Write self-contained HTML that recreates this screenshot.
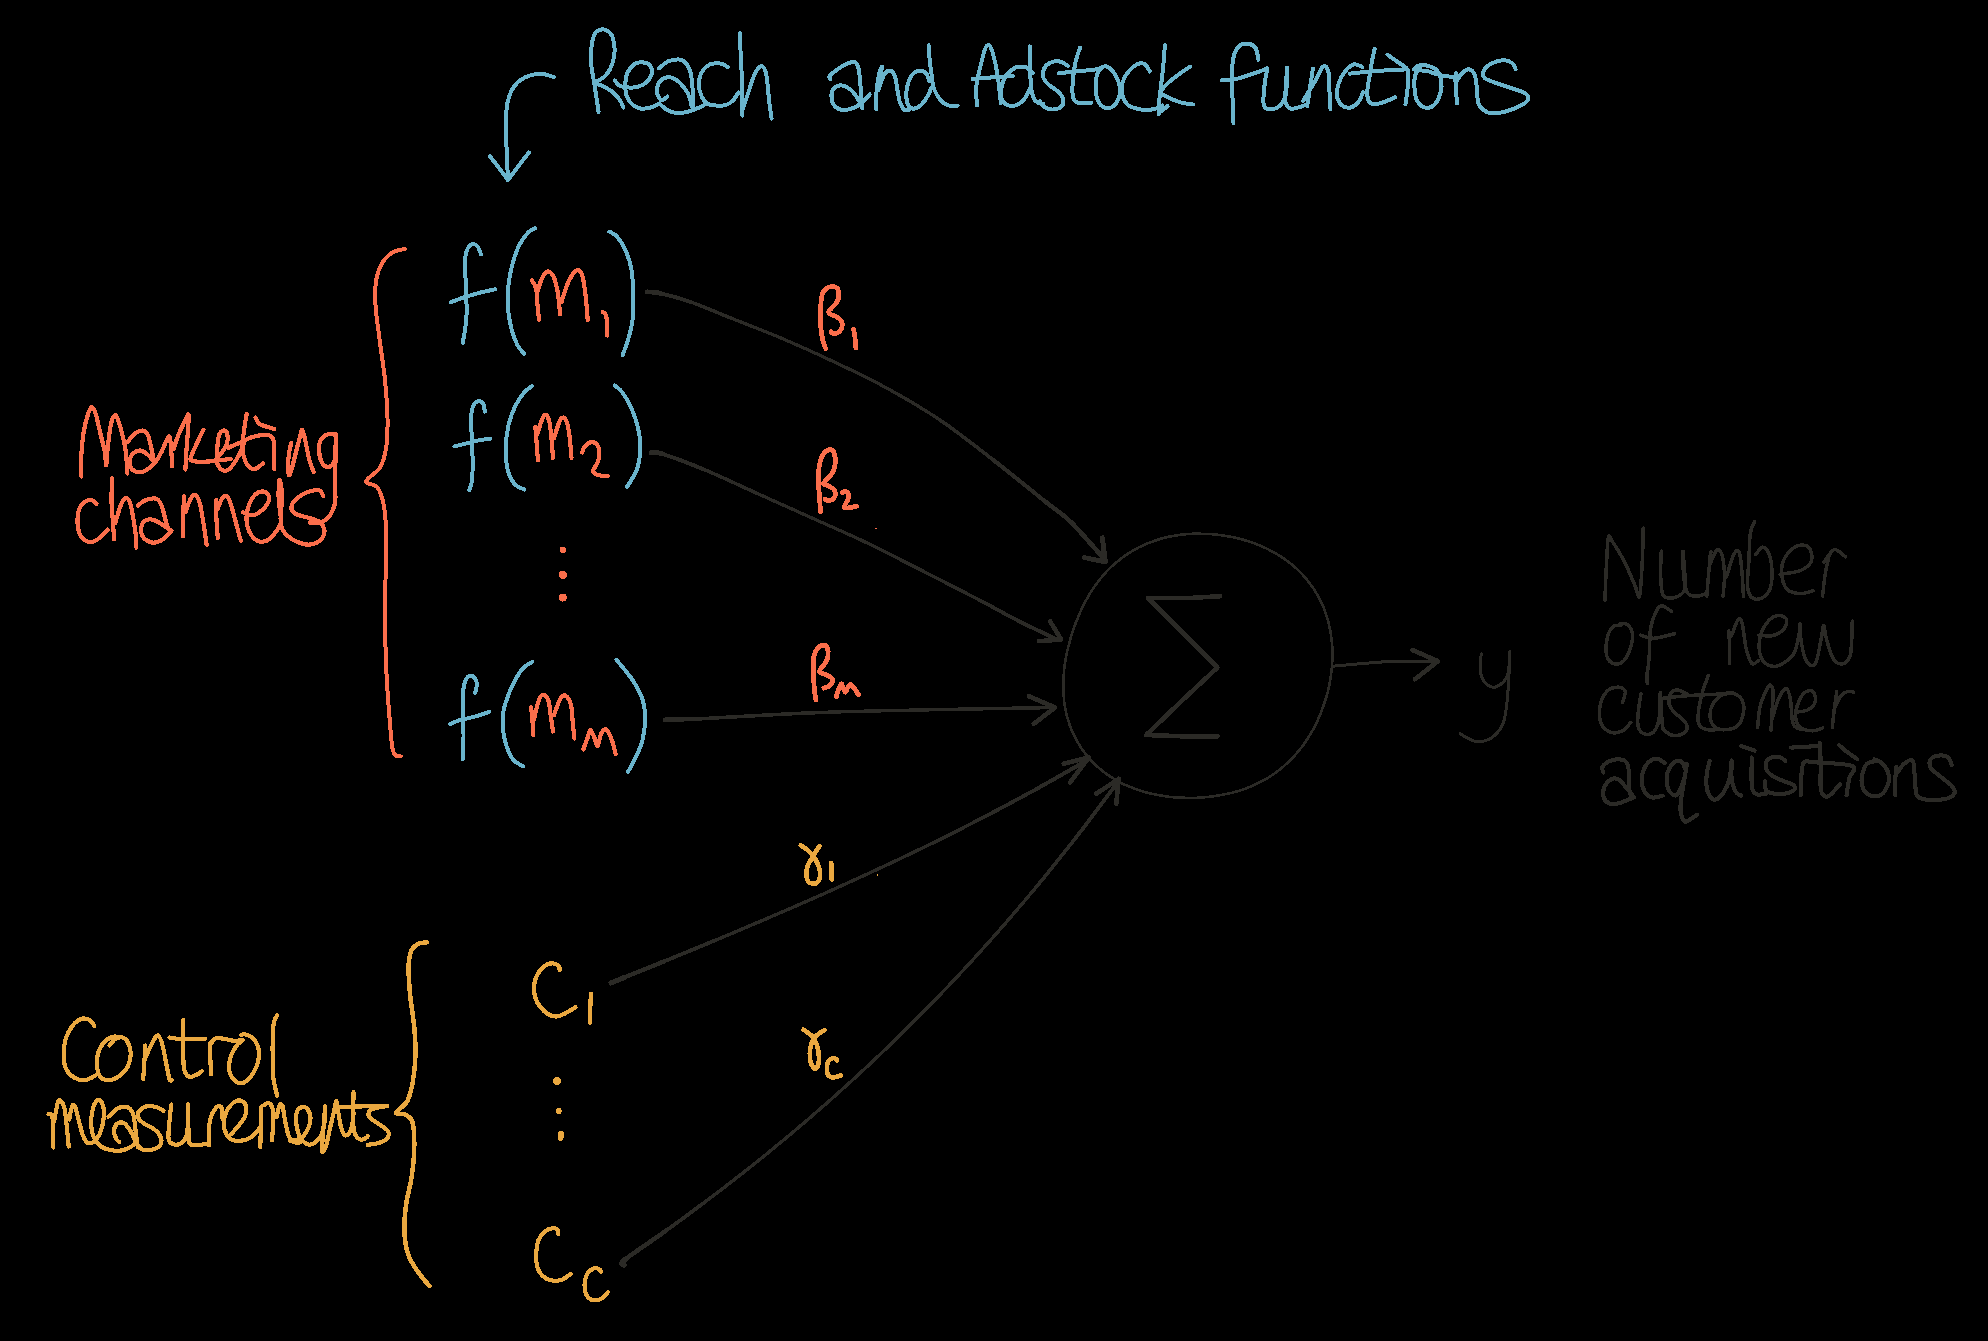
<!DOCTYPE html>
<html><head><meta charset="utf-8"><title>Marketing mix model diagram</title>
<style>html,body{margin:0;padding:0;background:#000;width:1988px;height:1341px;overflow:hidden}svg{display:block}</style></head>
<body><svg width="1988" height="1341" viewBox="0 0 1988 1341">
<rect width="1988" height="1341" fill="#000"/>
<g fill="none" stroke-linecap="round" stroke-linejoin="round" shape-rendering="crispEdges">
<path d="M1152.5,541.5C1154.4,540.9 1160.1,538.8 1164.0,537.8C1167.9,536.8 1172.0,536.1 1176.0,535.5C1180.0,534.9 1184.2,534.3 1188.2,534.0C1192.3,533.7 1196.5,533.7 1200.5,533.8C1204.5,533.8 1208.5,533.9 1212.5,534.2C1216.5,534.6 1220.7,535.1 1224.8,535.8C1228.8,536.4 1232.8,537.0 1236.8,538.0C1240.8,539.0 1244.8,540.2 1248.8,541.5C1252.7,542.8 1256.7,544.1 1260.5,545.8C1264.3,547.4 1268.0,549.2 1271.8,551.2C1275.5,553.2 1279.2,555.4 1282.8,557.8C1286.2,560.1 1289.5,562.5 1292.8,565.2C1296.0,568.0 1299.1,570.9 1302.0,574.0C1304.9,577.1 1307.7,580.6 1310.2,584.0C1312.8,587.4 1315.1,590.8 1317.2,594.5C1319.4,598.2 1321.3,602.1 1323.0,606.0C1324.7,609.9 1326.0,613.9 1327.2,618.0C1328.5,622.1 1329.5,626.3 1330.2,630.5C1331.0,634.7 1331.6,638.8 1332.0,643.0C1332.4,647.2 1332.5,651.4 1332.5,655.5C1332.5,659.6 1332.1,663.7 1331.8,667.8C1331.4,671.8 1330.9,676.0 1330.2,680.0C1329.6,684.0 1328.8,688.1 1327.8,692.0C1326.8,695.9 1325.5,699.7 1324.2,703.5C1323.0,707.3 1321.5,711.2 1320.0,715.0C1318.5,718.8 1316.8,722.4 1315.0,726.0C1313.2,729.6 1311.1,733.1 1309.0,736.5C1306.9,739.9 1304.7,743.3 1302.2,746.5C1299.8,749.7 1297.2,752.8 1294.5,755.8C1291.8,758.7 1289.0,761.5 1286.0,764.2C1283.0,767.0 1279.8,769.6 1276.5,772.0C1273.2,774.4 1270.0,776.7 1266.5,778.8C1263.0,780.8 1259.4,782.5 1255.8,784.2C1252.1,786.0 1248.3,787.6 1244.5,789.0C1240.7,790.4 1236.9,791.5 1233.0,792.5C1229.1,793.5 1225.2,794.3 1221.2,795.0C1217.3,795.7 1213.5,796.3 1209.5,796.8C1205.5,797.2 1201.3,797.6 1197.2,797.8C1193.2,797.9 1189.3,797.8 1185.2,797.8C1181.2,797.7 1177.1,797.6 1173.0,797.2C1168.9,796.9 1164.8,796.2 1160.8,795.5C1156.7,794.8 1152.6,794.0 1148.5,793.0C1144.4,792.0 1140.3,790.7 1136.2,789.2C1132.2,787.8 1128.1,786.3 1124.2,784.5C1120.4,782.7 1116.7,780.5 1113.0,778.2C1109.3,776.0 1105.7,773.5 1102.2,770.8C1098.8,768.0 1095.5,765.1 1092.5,762.0C1089.5,758.9 1086.6,755.5 1084.0,752.0C1081.4,748.5 1079.1,744.8 1077.0,741.0C1074.9,737.2 1072.9,733.2 1071.2,729.2C1069.6,725.2 1068.4,721.2 1067.2,717.0C1066.1,712.8 1065.1,708.5 1064.5,704.2C1063.9,700.0 1063.7,695.8 1063.5,691.5C1063.3,687.2 1063.3,682.9 1063.5,678.8C1063.7,674.6 1064.0,670.6 1064.5,666.5C1065.0,662.4 1065.7,658.2 1066.5,654.2C1067.3,650.2 1068.5,646.4 1069.5,642.5C1070.5,638.6 1071.5,634.8 1072.8,631.0C1074.0,627.2 1075.5,623.5 1077.0,619.8C1078.5,616.0 1080.0,612.3 1081.8,608.8C1083.5,605.2 1085.3,601.7 1087.2,598.2C1089.2,594.8 1091.2,591.3 1093.5,588.0C1095.8,584.7 1098.2,581.4 1100.8,578.2C1103.3,575.1 1105.9,572.1 1108.8,569.2C1111.6,566.4 1114.6,563.8 1117.8,561.2C1120.9,558.7 1124.1,556.2 1127.5,554.0C1130.9,551.8 1134.4,549.6 1138.0,547.8C1141.6,545.9 1145.5,544.2 1149.2,542.8C1153.0,541.2 1156.8,539.9 1160.8,538.8C1164.7,537.6 1168.8,536.8 1172.8,536.0C1176.8,535.2 1182.8,534.5 1184.8,534.2" stroke="#2b2a26" stroke-width="2.6"/>
<path d="M1220.0,596.2L1190.0,598.0L1148.0,598.0L1182.5,632.5L1217.5,667.5L1180.0,702.5L1146.2,735.0L1180.0,736.2L1217.5,736.2" stroke="#2b2a26" stroke-width="4.6"/>
<path d="M1333.0,666.2C1342.5,665.5 1372.6,662.3 1390.0,661.5C1407.4,660.7 1429.6,661.3 1437.5,661.2" stroke="#2b2a26" stroke-width="3"/>
<path d="M1412.5,650.0L1438.0,661.2L1415.0,679.2" stroke="#2b2a26" stroke-width="4.6"/>
<path d="M1481.2,653.8C1481.1,656.9 1479.5,667.3 1480.5,672.5C1481.5,677.7 1484.7,682.7 1487.5,685.0C1490.3,687.3 1494.2,687.9 1497.5,686.2C1500.8,684.6 1505.4,680.8 1507.5,675.0C1509.6,669.2 1509.6,655.2 1510.0,651.2" stroke="#2b2a26" stroke-width="3"/>
<path d="M1509.5,665.0C1509.1,671.2 1508.2,692.5 1507.0,702.5C1505.8,712.5 1505.3,719.0 1502.5,725.0C1499.7,731.0 1494.6,736.0 1490.0,738.8C1485.4,741.5 1480.0,742.1 1475.0,741.2C1470.0,740.4 1462.5,735.0 1460.0,733.8" stroke="#2b2a26" stroke-width="3"/>
<path d="M1083.8,557.5L1103.8,561.8L1102.5,537.5" stroke="#2b2a26" stroke-width="4.6"/>
<path d="M1063.8,763.8L1088.8,757.5L1070.0,782.5" stroke="#2b2a26" stroke-width="4.6"/>
<path d="M1096.2,793.8L1118.8,778.8L1116.2,803.8" stroke="#2b2a26" stroke-width="4.6"/>
<path d="M1083.8,557.5L1105.5,561.8L1102.5,537.5" stroke="#2b2a26" stroke-width="4.6"/>

<path d="M665.0,720.0C667.9,719.9 676.7,719.7 682.5,719.5" stroke="#2b2a26" stroke-width="5.00"/>
<path d="M682.5,719.5C688.3,719.3 677.1,719.9 700.0,718.8" stroke="#2b2a26" stroke-width="4.15"/>
<path d="M700.0,718.8C722.9,717.6 779.2,714.0 820.0,712.5" stroke="#2b2a26" stroke-width="3.60"/>
<path d="M820.0,712.5C860.8,711.0 905.9,710.3 945.0,709.5" stroke="#2b2a26" stroke-width="3.40"/>
<path d="M945.0,709.5C984.1,708.7 1036.2,707.8 1054.5,707.5" stroke="#2b2a26" stroke-width="3.50"/>
<path d="M1028.8,696.2L1055.0,707.5L1033.8,723.8" stroke="#2b2a26" stroke-width="4.6"/>
<path d="M1038.8,641.2L1061.2,639.5L1050.0,621.2" stroke="#2b2a26" stroke-width="4.6"/>
<path d="M611.0,983.0C613.3,982.0 616.2,980.8 625.0,977.2" stroke="#2b2a26" stroke-width="5.05"/>
<path d="M625.0,977.2C633.8,973.6 648.7,967.7 664.0,961.4" stroke="#2b2a26" stroke-width="4.30"/>
<path d="M664.0,961.4C679.3,955.1 699.3,947.0 717.0,939.6" stroke="#2b2a26" stroke-width="3.75"/>
<path d="M717.0,939.6C734.7,932.2 752.3,924.8 770.0,917.2" stroke="#2b2a26" stroke-width="3.40"/>
<path d="M770.0,917.2C787.7,909.6 805.3,902.0 823.0,894.1" stroke="#2b2a26" stroke-width="3.30"/>
<path d="M823.0,894.1C840.7,886.2 858.3,878.2 876.0,870.0" stroke="#2b2a26" stroke-width="3.30"/>
<path d="M876.0,870.0C893.7,861.8 911.3,853.4 929.0,844.8" stroke="#2b2a26" stroke-width="3.35"/>
<path d="M929.0,844.8C946.7,836.1 964.3,827.3 982.0,818.1" stroke="#2b2a26" stroke-width="3.50"/>
<path d="M982.0,818.1C999.7,808.9 1017.3,799.5 1035.0,789.8" stroke="#2b2a26" stroke-width="3.70"/>
<path d="M1035.0,789.8C1052.7,780.1 1079.2,764.7 1088.0,759.7" stroke="#2b2a26" stroke-width="3.90"/>
<path d="M624.0,1265.2C624.2,1264.3 618.0,1265.3 625.0,1259.6" stroke="#2b2a26" stroke-width="5.25"/>
<path d="M625.0,1259.6C632.0,1253.8 652.3,1240.5 666.0,1230.7" stroke="#2b2a26" stroke-width="4.50"/>
<path d="M666.0,1230.7C679.7,1220.9 693.3,1210.8 707.0,1200.5" stroke="#2b2a26" stroke-width="3.75"/>
<path d="M707.0,1200.5C720.7,1190.2 734.3,1179.7 748.0,1168.9" stroke="#2b2a26" stroke-width="3.40"/>
<path d="M748.0,1168.9C761.7,1158.1 775.3,1146.9 789.0,1135.5" stroke="#2b2a26" stroke-width="3.30"/>
<path d="M789.0,1135.5C802.7,1124.1 816.3,1112.4 830.0,1100.3" stroke="#2b2a26" stroke-width="3.30"/>
<path d="M830.0,1100.3C843.7,1088.2 857.3,1075.8 871.0,1063.0" stroke="#2b2a26" stroke-width="3.30"/>
<path d="M871.0,1063.0C884.7,1050.2 898.3,1036.9 912.0,1023.3" stroke="#2b2a26" stroke-width="3.30"/>
<path d="M912.0,1023.3C925.7,1009.7 939.3,995.7 953.0,981.2" stroke="#2b2a26" stroke-width="3.30"/>
<path d="M953.0,981.2C966.7,966.7 980.3,951.8 994.0,936.3" stroke="#2b2a26" stroke-width="3.30"/>
<path d="M994.0,936.3C1007.7,920.8 1021.3,905.0 1035.0,888.5" stroke="#2b2a26" stroke-width="3.40"/>
<path d="M1035.0,888.5C1048.7,872.0 1062.3,855.0 1076.0,837.5" stroke="#2b2a26" stroke-width="3.60"/>
<path d="M1076.0,837.5C1089.7,820.0 1110.2,792.2 1117.0,783.2" stroke="#2b2a26" stroke-width="3.80"/>
<path d="M647.1,291.9C649.3,292.1 652.8,291.4 660.2,293.2" stroke="#2b2a26" stroke-width="4.85"/>
<path d="M660.2,293.2C667.6,294.9 679.8,298.2 691.6,302.3" stroke="#2b2a26" stroke-width="3.90"/>
<path d="M691.6,302.3C703.3,306.5 715.5,311.9 730.8,318.0" stroke="#2b2a26" stroke-width="3.45"/>
<path d="M730.8,318.0C746.0,324.1 765.7,331.5 783.1,338.9" stroke="#2b2a26" stroke-width="3.25"/>
<path d="M783.1,338.9C800.5,346.3 818.0,354.2 835.4,362.5" stroke="#2b2a26" stroke-width="3.20"/>
<path d="M835.4,362.5C852.9,370.8 870.3,379.0 887.7,388.6" stroke="#2b2a26" stroke-width="3.20"/>
<path d="M887.7,388.6C905.2,398.2 922.6,408.3 940.0,420.0" stroke="#2b2a26" stroke-width="3.30"/>
<path d="M940.0,420.0C957.5,431.8 974.9,445.7 992.4,459.3" stroke="#2b2a26" stroke-width="3.60"/>
<path d="M992.4,459.3C1009.8,472.8 1031.6,490.6 1044.7,501.1" stroke="#2b2a26" stroke-width="4.05"/>
<path d="M1044.7,501.1C1057.8,511.6 1060.6,512.0 1070.8,522.0" stroke="#2b2a26" stroke-width="4.45"/>
<path d="M1070.8,522.0C1081.1,532.1 1100.3,554.7 1106.1,561.3" stroke="#2b2a26" stroke-width="4.60"/>
<path d="M651.0,452.7C653.0,452.9 653.8,451.2 662.8,454.0" stroke="#2b2a26" stroke-width="4.85"/>
<path d="M662.8,454.0C671.7,456.9 688.9,463.2 704.6,469.7" stroke="#2b2a26" stroke-width="3.90"/>
<path d="M704.6,469.7C720.3,476.3 739.5,485.4 756.9,493.3" stroke="#2b2a26" stroke-width="3.45"/>
<path d="M756.9,493.3C774.4,501.1 791.8,509.0 809.3,516.8" stroke="#2b2a26" stroke-width="3.25"/>
<path d="M809.3,516.8C826.7,524.7 844.1,532.1 861.6,540.3" stroke="#2b2a26" stroke-width="3.20"/>
<path d="M861.6,540.3C879.0,548.6 894.3,556.6 913.9,566.5" stroke="#2b2a26" stroke-width="3.25"/>
<path d="M913.9,566.5C933.5,576.4 961.8,590.9 979.3,600.0" stroke="#2b2a26" stroke-width="3.40"/>
<path d="M979.3,600.0C996.7,609.1 1005.7,614.4 1018.5,620.9" stroke="#2b2a26" stroke-width="3.65"/>
<path d="M1018.5,620.9C1031.4,627.5 1050.1,636.2 1056.4,639.2" stroke="#2b2a26" stroke-width="3.90"/>
<path d="M553.8,77.0C551.0,76.5 543.5,72.8 537.5,73.8C531.5,74.7 522.5,77.7 517.5,82.5C512.5,87.3 509.4,93.8 507.5,102.5C505.6,111.2 506.2,122.1 506.2,135.0C506.3,147.9 507.7,172.5 508.0,180.0" stroke="#6ab4cc" stroke-width="4"/>
<path d="M490.0,156.2L508.0,180.0L528.8,152.5" stroke="#6ab4cc" stroke-width="4"/>
<path d="M405.0,248.8C402.9,249.4 396.2,250.2 392.5,252.5C388.8,254.8 385.2,257.9 382.5,262.5C379.8,267.1 377.4,272.9 376.2,280.0C375.1,287.1 374.9,294.6 375.5,305.0C376.1,315.4 378.4,330.0 380.0,342.5C381.6,355.0 383.8,367.5 385.0,380.0C386.2,392.5 387.3,406.2 387.5,417.5C387.7,428.8 387.5,439.2 386.2,447.5C385.0,455.8 383.3,461.9 380.0,467.5C376.7,473.1 366.7,477.9 366.2,481.2C365.8,484.6 374.6,483.5 377.5,487.5C380.4,491.5 382.3,497.9 383.8,505.0C385.2,512.1 385.8,524.2 386.2,530.0C386.7,535.8 386.4,531.7 386.2,540.0C386.1,548.3 385.7,566.6 385.5,580.0C385.3,593.4 384.9,605.9 385.0,620.5C385.1,635.1 385.7,654.1 386.2,667.5C386.8,680.9 387.5,690.6 388.2,701.0C389.0,711.4 389.8,721.8 390.5,730.0C391.2,738.2 391.8,745.7 392.8,750.0C393.7,754.3 394.9,754.7 396.2,755.8C397.6,756.8 400.0,756.4 400.8,756.5" stroke="#fa6e4b" stroke-width="4"/>
<path d="M426.6,942.4C425.2,942.6 420.8,942.4 418.3,943.8C415.8,945.2 413.0,947.0 411.4,950.7C409.8,954.4 408.9,958.7 408.6,965.9C408.4,973.0 409.1,983.3 410.0,993.5C410.9,1003.6 413.2,1016.5 414.2,1026.6C415.1,1036.7 415.8,1045.0 415.5,1054.2C415.3,1063.4 414.2,1073.9 412.8,1081.8C411.4,1089.6 410.0,1095.9 407.3,1101.1C404.5,1106.2 396.4,1110.4 396.2,1112.7C396.0,1115.0 403.1,1113.1 405.9,1114.9C408.6,1116.6 411.4,1117.2 412.8,1123.2C414.2,1129.1 414.4,1141.6 414.2,1150.8C413.9,1159.9 412.8,1169.1 411.4,1178.3C410.0,1187.5 407.0,1196.7 405.9,1205.9C404.7,1215.1 404.0,1225.3 404.5,1233.5C405.0,1241.8 406.3,1249.2 408.6,1255.6C410.9,1262.0 414.8,1267.1 418.3,1272.2C421.7,1277.2 427.5,1283.7 429.3,1286.0" stroke="#eaa840" stroke-width="4.5"/>
<path d="M598.6,112.1C598.3,109.8 597.4,103.4 596.6,98.5C595.8,93.5 595.0,88.2 594.1,82.4C593.2,76.5 591.5,69.3 591.1,63.3C590.6,57.2 590.9,51.2 591.6,46.2C592.2,41.1 593.5,35.8 595.1,33.1C596.7,30.3 599.1,30.0 601.1,29.6C603.1,29.1 605.3,29.5 607.2,30.6C609.0,31.7 610.9,32.8 612.2,36.1C613.5,39.4 614.7,45.5 614.7,50.2C614.7,54.9 613.5,60.2 612.2,64.3C610.9,68.3 608.8,71.6 606.7,74.3C604.5,77.0 601.2,79.0 599.1,80.4C597.0,81.7 593.4,81.4 594.1,82.4C594.8,83.4 600.0,84.7 603.1,86.4C606.3,88.1 610.3,90.1 613.2,92.4C616.0,94.8 618.6,98.0 620.2,100.5C621.9,103.0 622.8,106.4 623.3,107.5" stroke="#6ab4cc" stroke-width="4.0"/>
<path d="M614.7,80.4C615.5,81.2 617.1,84.2 619.2,85.4C621.3,86.6 624.3,87.2 627.3,87.4C630.3,87.7 634.2,87.7 637.3,86.9C640.5,86.1 644.0,84.6 646.4,82.4C648.8,80.1 651.3,76.2 651.9,73.3C652.5,70.5 651.5,67.1 649.9,65.3C648.3,63.4 645.0,62.4 642.4,62.3C639.8,62.1 636.8,62.4 634.3,64.3C631.8,66.1 628.8,69.8 627.3,73.3C625.8,76.8 625.4,81.5 625.3,85.4C625.2,89.2 625.6,93.3 626.8,96.5C628.0,99.6 630.1,102.5 632.3,104.5C634.6,106.5 637.3,108.0 640.4,108.5C643.4,109.0 647.2,108.4 650.4,107.5C653.6,106.7 658.0,104.2 659.5,103.5" stroke="#6ab4cc" stroke-width="4.0"/>
<path d="M659.0,68.3C660.6,67.1 664.9,62.7 668.5,61.2C672.1,59.8 677.5,59.2 680.6,59.7C683.7,60.3 685.5,62.5 687.1,64.8C688.8,67.0 689.7,69.0 690.7,73.3C691.6,77.6 692.3,84.2 692.7,90.4C693.1,96.6 693.1,107.2 693.2,110.5" stroke="#6ab4cc" stroke-width="4.0"/>
<path d="M667.5,96.5C666.7,97.0 664.0,99.9 662.5,100.0C661.0,100.1 659.4,98.7 658.5,97.0C657.5,95.2 656.7,92.0 657.0,89.4C657.2,86.8 658.2,83.4 660.0,81.4C661.7,79.4 664.9,77.7 667.5,77.3C670.1,77.0 672.7,77.5 675.6,79.4C678.4,81.2 682.3,85.4 684.6,88.4C687.0,91.4 688.5,94.4 689.7,97.5C690.8,100.5 691.3,105.0 691.7,106.5" stroke="#6ab4cc" stroke-width="4.0"/>
<path d="M659.5,103.5C660.7,104.5 663.7,107.9 666.5,109.5C669.4,111.1 673.2,112.6 676.6,113.1C679.9,113.5 683.5,112.7 686.6,112.1C689.8,111.4 692.8,110.1 695.7,109.0C698.5,107.9 702.4,106.1 703.7,105.5" stroke="#6ab4cc" stroke-width="4.0"/>
<path d="M727.9,67.3C727.0,66.8 725.0,64.9 722.9,64.3C720.7,63.6 717.5,62.9 714.8,63.3C712.1,63.6 709.1,64.4 706.8,66.3C704.4,68.1 702.1,71.1 700.7,74.3C699.4,77.5 698.5,81.7 698.7,85.4C698.9,89.1 700.4,93.4 701.7,96.5C703.1,99.5 704.4,102.0 706.8,103.5C709.1,105.0 712.6,105.3 715.8,105.5C719.0,105.8 723.0,105.8 725.9,105.0C728.7,104.2 730.8,102.6 732.9,100.5C735.0,98.4 737.5,93.8 738.5,92.4" stroke="#6ab4cc" stroke-width="4.0"/>
<path d="M740.0,33.1C740.0,35.9 740.2,44.0 740.5,50.2C740.7,56.4 741.2,63.6 741.5,70.3C741.7,77.0 741.8,82.9 742.0,90.4C742.1,98.0 742.4,111.4 742.5,115.6" stroke="#6ab4cc" stroke-width="4.0"/>
<path d="M743.0,108.5C744.0,105.5 747.0,96.3 749.0,90.4C751.0,84.6 753.0,77.3 755.1,73.3C757.1,69.3 759.4,66.8 761.1,66.3C762.8,65.8 764.1,68.0 765.1,70.3C766.1,72.6 766.5,75.3 767.1,80.4C767.8,85.4 768.4,94.1 769.1,100.5C769.9,106.9 771.2,115.6 771.6,118.6" stroke="#6ab4cc" stroke-width="4.0"/>
<path d="M830.1,79.3C830.0,78.7 828.7,77.1 829.6,75.8C830.4,74.4 832.8,72.9 835.1,71.2C837.4,69.6 840.5,67.2 843.1,65.7C845.8,64.2 849.1,62.7 851.2,62.2C853.3,61.7 854.5,61.5 855.7,62.7C857.0,63.9 858.0,66.0 858.7,69.2C859.5,72.5 859.8,77.8 860.2,82.3C860.7,86.8 860.9,92.1 861.2,96.4C861.6,100.7 862.1,106.0 862.3,108.0" stroke="#6ab4cc" stroke-width="4.0"/>
<path d="M869.8,94.4C868.5,95.7 865.0,100.2 862.3,102.4C859.5,104.7 856.4,106.7 853.2,108.0C850.0,109.2 846.2,110.2 843.1,110.0C840.1,109.7 837.0,108.4 835.1,106.5C833.2,104.5 831.9,101.3 831.6,98.4C831.2,95.6 831.7,91.5 833.1,89.4C834.5,87.2 837.8,85.7 840.1,85.3C842.5,85.0 844.8,86.0 847.2,87.3C849.5,88.7 852.2,91.0 854.2,93.4C856.2,95.7 857.9,99.0 859.2,101.4C860.6,103.9 861.8,106.9 862.3,108.0" stroke="#6ab4cc" stroke-width="4.0"/>
<path d="M876.3,109.5C876.4,106.6 876.1,98.1 876.5,92.4C877.0,86.7 878.0,79.5 878.9,75.3C879.7,71.0 881.6,66.4 881.9,66.7C882.1,67.1 880.9,73.3 880.4,77.3C879.8,81.2 878.7,88.2 878.4,90.4" stroke="#6ab4cc" stroke-width="4.0"/>
<path d="M878.4,90.4C879.4,87.7 882.4,77.5 884.4,74.3C886.4,71.0 888.7,70.4 890.4,70.7C892.2,71.1 893.8,73.0 894.9,76.3C896.1,79.5 896.6,86.0 897.5,90.4C898.3,94.7 898.8,99.2 900.0,102.4C901.2,105.7 902.9,108.8 904.5,110.0C906.1,111.2 908.7,109.6 909.5,109.5" stroke="#6ab4cc" stroke-width="4.0"/>
<path d="M929.2,81.3C928.7,80.0 927.7,75.0 926.1,73.3C924.5,71.5 921.9,70.6 919.6,70.7C917.3,70.9 914.6,71.8 912.6,74.3C910.5,76.7 908.5,81.3 907.5,85.3C906.5,89.4 906.1,94.7 906.5,98.4C906.9,102.1 908.2,106.0 910.0,107.5C911.9,109.0 915.0,108.8 917.6,107.5C920.2,106.1 923.3,102.8 925.6,99.4C928.0,96.1 930.7,89.4 931.7,87.3" stroke="#6ab4cc" stroke-width="4.0"/>
<path d="M928.7,45.1C928.8,47.6 929.2,55.2 929.7,60.2C930.2,65.2 931.1,70.9 931.7,75.3C932.3,79.6 932.3,83.2 933.2,86.3C934.0,89.5 935.3,91.9 936.7,94.4C938.1,96.9 939.7,99.6 941.7,101.4C943.7,103.3 946.1,104.8 948.8,105.5C951.5,106.1 956.3,105.5 957.8,105.5" stroke="#6ab4cc" stroke-width="4.0"/>
<path d="M976.9,105.5C976.8,102.3 975.8,92.9 976.3,86.6C976.8,80.3 978.6,74.0 980.1,67.7C981.6,61.4 983.8,52.6 985.1,48.9C986.5,45.1 987.2,45.1 988.3,45.1C989.3,45.1 990.3,45.9 991.4,48.9C992.6,51.8 994.0,57.5 995.2,62.7C996.3,67.9 997.4,73.6 998.3,80.3C999.3,87.0 1000.4,99.2 1000.8,102.9" stroke="#6ab4cc" stroke-width="4.0"/>
<path d="M972.5,79.0C974.4,78.9 979.3,78.4 983.9,78.0C988.5,77.7 995.4,77.1 1000.2,76.8C1005.0,76.4 1010.7,76.0 1012.8,75.9" stroke="#6ab4cc" stroke-width="4.0"/>
<path d="M1032.9,72.8C1031.6,71.8 1028.3,67.9 1025.4,67.1C1022.4,66.3 1018.4,66.4 1015.3,67.7C1012.2,69.1 1008.8,72.1 1006.5,75.3C1004.2,78.4 1002.6,82.8 1001.7,86.6C1000.9,90.4 1000.8,95.0 1001.5,97.9C1002.2,100.8 1003.6,102.9 1005.9,104.2C1008.2,105.5 1012.3,106.3 1015.3,105.5C1018.3,104.6 1021.6,102.1 1024.1,99.2C1026.6,96.2 1029.3,89.7 1030.4,87.8" stroke="#6ab4cc" stroke-width="4.0"/>
<path d="M1029.8,46.3C1029.8,49.9 1029.9,61.0 1030.1,67.7C1030.4,74.4 1030.5,81.6 1031.0,86.6C1031.6,91.6 1032.4,95.2 1033.5,97.9C1034.7,100.6 1036.4,102.0 1037.9,102.9C1039.5,103.9 1042.1,103.5 1043.0,103.6" stroke="#6ab4cc" stroke-width="4.0"/>
<path d="M1068.1,65.8C1066.7,65.1 1062.3,62.0 1059.3,61.4C1056.4,60.9 1053.0,61.5 1050.5,62.7C1048.0,63.8 1045.4,65.9 1044.2,68.4C1043.0,70.8 1042.5,74.4 1043.2,77.2C1044.0,79.9 1046.3,82.4 1048.6,84.7C1051.0,87.0 1055.0,88.7 1057.4,91.0C1059.8,93.3 1062.4,96.0 1063.1,98.5C1063.8,101.1 1063.5,104.3 1061.8,106.1C1060.2,107.9 1056.0,109.3 1053.0,109.5C1050.1,109.6 1046.4,108.4 1044.2,107.0C1042.0,105.6 1040.6,102.0 1039.8,101.1" stroke="#6ab4cc" stroke-width="4.0"/>
<path d="M1080.1,47.6C1079.3,49.9 1076.8,56.4 1075.7,61.4C1074.5,66.5 1073.7,72.5 1073.1,77.8C1072.6,83.0 1072.3,89.1 1072.5,92.9C1072.8,96.7 1073.2,98.9 1074.7,100.7C1076.1,102.4 1078.5,103.0 1081.3,103.3C1084.1,103.7 1089.7,102.8 1091.4,102.7" stroke="#6ab4cc" stroke-width="4.0"/>
<path d="M1058.7,73.4C1060.9,73.1 1067.4,72.2 1071.9,71.8C1076.4,71.3 1081.3,70.9 1085.7,70.5C1090.1,70.1 1096.2,69.4 1098.3,69.2" stroke="#6ab4cc" stroke-width="4.0"/>
<path d="M1102.3,66.7C1101.4,68.0 1098.1,71.3 1097.0,74.6C1096.0,78.0 1095.7,82.5 1095.8,86.6C1095.8,90.7 1096.0,95.8 1097.3,99.2C1098.6,102.6 1100.9,105.7 1103.3,107.0C1105.8,108.3 1109.6,108.4 1112.1,107.0C1114.7,105.5 1117.4,101.5 1118.7,98.2C1120.0,94.8 1120.6,90.8 1119.9,86.8C1119.3,82.9 1117.0,77.6 1114.9,74.3C1112.8,70.9 1109.5,67.9 1107.1,66.7C1104.8,65.6 1101.9,67.3 1100.8,67.5" stroke="#6ab4cc" stroke-width="4.0"/>
<path d="M1149.9,71.5C1149.0,70.3 1146.9,65.4 1144.8,64.2C1142.7,63.0 1140.0,63.0 1137.3,64.2C1134.6,65.4 1131.0,68.4 1128.5,71.5C1126.0,74.6 1123.5,78.8 1122.4,82.8C1121.4,86.8 1121.4,91.6 1122.4,95.4C1123.5,99.2 1125.6,103.1 1128.7,105.5C1131.8,107.8 1136.9,108.8 1141.1,109.5C1145.2,110.1 1150.1,109.9 1153.6,109.2C1157.2,108.6 1161.0,106.1 1162.4,105.5" stroke="#6ab4cc" stroke-width="4.0"/>
<path d="M1164.9,45.1C1164.6,48.9 1163.7,60.8 1163.1,67.7C1162.4,74.6 1161.6,81.1 1160.9,86.6C1160.3,92.0 1159.7,95.8 1159.3,100.4C1158.9,105.0 1158.8,112.0 1158.7,114.3" stroke="#6ab4cc" stroke-width="4.0"/>
<path d="M1190.1,66.7C1188.2,68.0 1182.7,71.4 1178.8,74.3C1174.9,77.2 1169.8,81.0 1166.8,84.1C1163.9,87.2 1160.2,90.3 1161.2,92.9C1162.1,95.4 1168.9,97.7 1172.5,99.4C1176.1,101.1 1179.2,102.1 1182.6,102.9C1186.0,103.8 1191.1,104.2 1192.9,104.4" stroke="#6ab4cc" stroke-width="4.0"/>
<path d="M1167.7,106.1L1161.2,111.1" stroke="#6ab4cc" stroke-width="4.0"/>
<path d="M1233.5,123.4C1233.4,119.9 1233.0,109.9 1232.7,102.4C1232.4,94.9 1231.8,85.8 1231.9,78.3C1232.0,70.8 1232.3,62.7 1233.5,57.4C1234.7,52.0 1236.7,48.4 1239.1,46.1C1241.6,43.8 1245.3,43.4 1248.0,43.7C1250.7,44.0 1253.8,45.3 1255.6,48.0C1257.3,50.7 1258.0,57.8 1258.5,59.8" stroke="#6ab4cc" stroke-width="4.0"/>
<path d="M1221.8,80.2C1223.6,80.1 1228.8,80.5 1232.9,79.7C1237.0,79.0 1241.9,77.3 1246.4,75.9C1250.9,74.5 1256.3,72.6 1259.7,71.4C1263.2,70.1 1266.1,68.8 1267.3,68.3" stroke="#6ab4cc" stroke-width="4.0"/>
<path d="M1267.3,68.3C1266.9,71.0 1265.2,78.8 1264.6,84.7C1264.0,90.7 1262.9,99.9 1263.6,104.0C1264.3,108.1 1266.3,109.0 1268.9,109.4C1271.6,109.7 1276.6,108.6 1279.4,106.1C1282.2,103.6 1284.5,100.8 1285.8,94.4C1287.1,87.9 1286.9,72.0 1287.1,67.5" stroke="#6ab4cc" stroke-width="4.0"/>
<path d="M1287.1,67.5C1286.9,70.9 1286.1,82.4 1285.8,87.9C1285.5,93.5 1284.5,97.4 1285.2,100.8C1285.9,104.2 1287.6,107.3 1289.8,108.4C1292.1,109.5 1295.8,107.9 1298.7,107.3C1301.6,106.6 1305.8,104.8 1307.2,104.4" stroke="#6ab4cc" stroke-width="4.0"/>
<path d="M1307.2,106.1C1307.7,103.1 1309.0,94.2 1310.0,87.9C1310.9,81.7 1312.4,72.0 1312.9,68.8" stroke="#6ab4cc" stroke-width="4.0"/>
<path d="M1303.2,100.8C1305.1,97.6 1311.5,87.3 1314.8,81.5C1318.1,75.8 1320.9,67.9 1323.2,66.4C1325.4,64.8 1327.4,67.5 1328.5,72.2C1329.6,76.8 1329.3,88.2 1329.6,94.4C1329.9,100.5 1330.3,106.6 1330.4,109.0" stroke="#6ab4cc" stroke-width="4.0"/>
<path d="M1362.2,67.0C1360.8,66.5 1356.8,63.8 1354.1,64.3C1351.4,64.9 1348.6,67.2 1346.1,70.2C1343.6,73.2 1340.5,77.9 1339.0,82.3C1337.5,86.6 1336.5,92.5 1337.0,96.3C1337.5,100.2 1339.9,103.5 1342.0,105.4C1344.2,107.3 1347.4,108.1 1350.1,107.6C1352.8,107.1 1356.0,104.9 1358.1,102.4C1360.3,99.8 1362.3,94.0 1363.2,92.3" stroke="#6ab4cc" stroke-width="4.0"/>
<path d="M1374.7,48.6C1374.3,50.5 1373.1,55.7 1372.2,60.1C1371.4,64.6 1370.5,70.2 1369.7,75.2C1368.9,80.2 1367.6,86.1 1367.4,90.3C1367.2,94.5 1367.3,98.0 1368.4,100.4C1369.5,102.7 1371.4,104.0 1373.7,104.4C1376.0,104.8 1378.7,103.7 1382.3,102.6C1385.9,101.4 1393.2,98.2 1395.4,97.3" stroke="#6ab4cc" stroke-width="4.0"/>
<path d="M1349.6,73.7C1352.2,73.4 1359.2,72.5 1365.2,72.0C1371.1,71.4 1378.3,70.8 1385.3,70.4C1392.3,69.9 1403.7,69.5 1407.4,69.4" stroke="#6ab4cc" stroke-width="4.0"/>
<path d="M1387.3,54.6C1388.8,55.7 1393.3,58.9 1396.4,61.1C1399.5,63.3 1403.9,65.8 1405.9,67.7C1407.9,69.5 1408.1,69.3 1408.4,72.2C1408.8,75.1 1408.2,81.2 1407.9,85.3C1407.6,89.3 1407.0,93.2 1406.6,96.3C1406.2,99.5 1405.6,103.0 1405.4,104.4" stroke="#6ab4cc" stroke-width="4.0"/>
<path d="M1420.5,68.2C1419.7,69.2 1416.5,70.9 1415.5,74.2C1414.5,77.6 1414.1,83.8 1414.5,88.3C1414.8,92.8 1415.7,98.1 1417.5,101.4C1419.3,104.6 1422.7,107.1 1425.5,107.6C1428.4,108.1 1432.1,107.1 1434.6,104.6C1437.1,102.0 1439.5,96.4 1440.6,92.3C1441.7,88.3 1441.8,83.9 1441.1,80.2C1440.5,76.6 1438.7,72.6 1436.6,70.2C1434.5,67.8 1431.4,66.8 1428.6,66.0C1425.7,65.2 1421.9,64.8 1419.5,65.4C1417.1,65.9 1414.0,68.6 1414.0,69.4C1414.0,70.2 1417.1,69.9 1419.5,70.2C1421.9,70.5 1427.1,71.0 1428.6,71.2" stroke="#6ab4cc" stroke-width="4.0"/>
<path d="M1428.6,71.4C1430.6,72.0 1436.1,74.2 1440.6,75.2C1445.2,76.2 1453.2,77.1 1455.7,77.4" stroke="#6ab4cc" stroke-width="4.0"/>
<path d="M1456.9,103.4C1456.8,100.4 1456.0,90.3 1455.9,85.3C1455.8,80.2 1456.3,73.7 1456.2,73.2C1456.2,72.7 1454.8,82.3 1455.7,82.3C1456.7,82.3 1459.7,75.3 1462.0,73.2C1464.2,71.1 1466.9,69.0 1469.0,69.4C1471.2,69.7 1473.5,71.7 1474.8,75.2C1476.2,78.7 1476.5,85.8 1477.1,90.3C1477.6,94.8 1477.1,99.2 1478.1,102.4C1479.0,105.6 1480.6,107.8 1482.9,109.6C1485.2,111.5 1488.1,113.1 1491.9,113.4C1495.8,113.7 1501.2,112.8 1506.0,111.4C1510.9,110.1 1517.4,107.4 1521.1,105.4C1524.8,103.4 1527.5,101.4 1528.2,99.4C1528.8,97.3 1527.3,95.0 1525.1,93.3C1523.0,91.6 1519.3,90.8 1515.1,89.3C1510.9,87.8 1505.0,86.1 1500.0,84.3C1495.0,82.4 1487.6,80.6 1484.9,78.2C1482.2,75.9 1482.7,72.7 1483.9,70.2C1485.1,67.7 1488.6,65.0 1491.9,63.3C1495.3,61.7 1500.7,60.2 1504.0,60.1C1507.4,60.1 1510.1,61.6 1512.1,63.1C1514.0,64.6 1515.0,68.2 1515.6,69.2" stroke="#6ab4cc" stroke-width="4.0"/>
<path d="M462.7,342.8C463.1,340.8 464.3,335.5 464.9,330.7C465.5,325.9 466.4,321.4 466.6,314.1C466.7,306.7 466.3,294.7 466.0,286.4C465.7,278.1 464.8,270.2 464.9,264.3C465.0,258.4 465.4,254.3 466.6,251.0C467.8,247.7 470.2,245.1 472.1,244.3C473.9,243.6 476.2,244.9 477.6,246.6C479.1,248.2 480.4,253.0 480.9,254.3" stroke="#6ab4cc" stroke-width="4.0"/>
<path d="M450.5,302.4C452.5,301.7 457.4,299.6 462.1,298.0C466.8,296.5 473.2,294.5 478.7,293.0C484.3,291.6 492.6,289.8 495.3,289.2" stroke="#6ab4cc" stroke-width="4.0"/>
<path d="M535.2,228.3C534.1,228.9 531.1,229.5 528.5,232.2C526.0,234.8 522.3,239.4 519.7,244.3C517.1,249.3 514.9,255.4 513.0,262.1C511.2,268.7 509.4,276.4 508.6,284.2C507.8,291.9 507.5,300.8 508.1,308.5C508.6,316.3 510.4,324.6 511.9,330.7C513.5,336.8 515.4,341.2 517.5,345.1C519.5,348.9 523.0,352.4 524.1,353.9" stroke="#6ab4cc" stroke-width="4.0"/>
<path d="M609.3,231.6C610.6,232.5 614.3,233.4 617.1,236.6C619.8,239.8 623.5,245.5 625.9,251.0C628.3,256.5 630.3,263.0 631.5,269.8C632.7,276.6 632.9,283.6 633.1,291.9C633.3,300.2 633.4,311.7 632.6,319.6C631.7,327.5 629.8,333.6 628.1,339.5C626.5,345.4 623.5,352.4 622.6,355.0" stroke="#6ab4cc" stroke-width="4.0"/>
<path d="M531.9,280.3C532.6,281.7 535.1,284.6 536.1,288.6C537.0,292.6 536.9,298.9 537.4,304.1C537.9,309.3 538.8,317.0 539.0,319.6" stroke="#fa6e4b" stroke-width="4.2"/>
<path d="M536.5,295.3C537.4,292.5 539.9,282.6 541.8,278.7C543.7,274.7 545.9,271.6 547.9,271.5C549.9,271.3 552.3,274.0 554.0,277.5C555.6,281.1 556.8,287.0 557.9,293.0C558.9,299.1 559.7,310.6 560.1,314.1" stroke="#fa6e4b" stroke-width="4.2"/>
<path d="M561.5,301.9C562.7,298.6 565.8,287.2 568.4,282.0C570.9,276.7 574.4,271.5 576.7,270.4C579.0,269.2 580.7,271.2 582.2,275.3C583.7,279.5 584.6,287.8 585.5,295.3C586.5,302.7 587.4,316.0 587.7,320.2" stroke="#fa6e4b" stroke-width="4.2"/>
<path d="M602.7,311.9C603.2,312.4 605.3,313.0 606.0,315.2C606.7,317.4 606.9,321.7 607.1,325.1C607.3,328.5 607.1,333.9 607.1,335.6" stroke="#fa6e4b" stroke-width="4.2"/>
<path d="M469.3,490.1C469.8,488.4 471.5,484.6 472.1,480.1C472.6,475.7 472.6,470.0 472.6,463.5C472.6,457.1 472.4,448.8 472.1,441.4C471.8,434.0 470.8,425.2 471.0,419.3C471.2,413.4 472.0,409.0 473.2,406.0C474.4,402.9 476.5,401.4 478.2,401.0C479.8,400.6 482.1,402.0 483.2,403.8C484.3,405.5 484.5,410.2 484.8,411.5" stroke="#6ab4cc" stroke-width="4.0"/>
<path d="M454.4,446.4C456.6,445.8 463.6,444.1 467.7,443.1C471.7,442.0 475.0,441.0 478.7,440.3C482.5,439.6 488.4,438.9 490.4,438.6" stroke="#6ab4cc" stroke-width="4.0"/>
<path d="M531.9,386.1C530.6,387.2 526.9,389.4 524.1,392.7C521.3,396.0 517.8,400.6 515.3,406.0C512.7,411.3 510.2,418.0 508.6,424.8C507.0,431.6 506.0,439.6 505.8,446.9C505.7,454.3 506.1,463.0 507.5,469.1C508.9,475.2 511.4,480.0 514.1,483.5C516.9,486.9 522.4,488.5 524.1,489.5" stroke="#6ab4cc" stroke-width="4.0"/>
<path d="M614.9,385.5C616.1,386.7 619.8,388.9 622.6,392.7C625.4,396.5 628.9,402.3 631.5,408.2C634.0,414.1 636.6,421.7 638.1,428.1C639.6,434.6 640.3,440.7 640.3,446.9C640.3,453.2 639.4,460.6 638.1,465.7C636.8,470.9 634.4,474.4 632.6,477.9C630.7,481.4 628.0,485.3 627.0,486.8" stroke="#6ab4cc" stroke-width="4.0"/>
<path d="M535.4,427.0C535.6,429.4 536.1,435.9 536.5,441.4C536.9,446.9 537.7,457.1 537.9,460.2" stroke="#fa6e4b" stroke-width="4.2"/>
<path d="M537.4,433.7C538.5,430.6 542.1,417.6 544.0,415.4C546.0,413.2 547.7,416.0 549.0,420.4C550.3,424.7 551.1,435.1 551.8,441.4C552.4,447.7 552.7,455.2 552.9,458.0" stroke="#fa6e4b" stroke-width="4.2"/>
<path d="M554.0,438.1C555.1,434.9 558.6,422.2 560.6,419.3C562.7,416.3 564.7,417.6 566.2,420.4C567.6,423.1 568.6,429.6 569.5,435.9C570.4,442.1 571.1,454.3 571.5,458.0" stroke="#fa6e4b" stroke-width="4.2"/>
<path d="M582.2,452.5C582.6,451.5 583.1,448.6 584.4,446.9C585.7,445.3 588.0,443.0 590.0,442.5C591.9,442.0 594.7,442.3 596.3,443.8C597.8,445.3 599.1,448.6 599.4,451.6C599.7,454.5 599.0,458.4 598.0,461.5C597.0,464.7 593.7,468.3 593.3,470.4C592.9,472.5 594.1,473.2 595.5,474.0C596.9,474.9 599.5,475.4 601.6,475.7C603.6,476.0 606.6,475.9 607.7,475.9" stroke="#fa6e4b" stroke-width="4.2"/>
<path d="M475.1,693.0C475.4,691.4 477.3,686.0 476.9,683.2C476.5,680.3 474.1,676.9 472.4,676.0C470.8,675.1 468.5,675.7 467.1,677.8C465.6,679.9 464.1,683.2 463.5,688.5C462.8,693.9 463.1,702.0 463.1,710.0C463.1,718.1 463.6,728.6 463.5,736.9C463.4,745.1 462.7,755.5 462.6,759.2" stroke="#6ab4cc" stroke-width="4.0"/>
<path d="M450.1,724.3C451.4,723.7 453.8,722.1 458.1,720.7C462.4,719.4 470.8,717.8 476.0,716.3C481.2,714.8 487.2,712.5 489.4,711.8" stroke="#6ab4cc" stroke-width="4.0"/>
<path d="M532.4,661.7C530.7,662.9 526.0,664.7 522.5,668.8C519.1,673.0 514.9,679.9 511.8,686.7C508.7,693.6 505.2,703.1 503.7,710.0C502.3,716.9 502.4,721.9 502.8,727.9C503.3,733.9 504.6,740.4 506.4,745.8C508.2,751.2 510.8,756.7 513.6,760.1C516.4,763.5 521.8,765.3 523.4,766.4" stroke="#6ab4cc" stroke-width="4.0"/>
<path d="M616.5,659.9C617.2,660.8 618.1,661.7 621.0,665.3C623.8,668.8 629.9,675.7 633.5,681.4C637.1,687.0 640.5,693.0 642.4,699.3C644.4,705.5 645.1,712.1 645.1,719.0C645.1,725.8 644.1,733.9 642.4,740.4C640.8,747.0 637.7,753.1 635.3,758.3C632.9,763.5 629.3,769.5 628.1,771.7" stroke="#6ab4cc" stroke-width="4.0"/>
<path d="M531.1,707.3C531.3,709.3 532.0,714.3 532.4,719.0C532.7,723.6 533.1,732.4 533.3,735.1" stroke="#fa6e4b" stroke-width="4.2"/>
<path d="M533.6,720.7C534.5,717.5 537.1,705.4 538.6,701.1C540.2,696.7 541.5,694.8 543.1,694.8C544.8,694.8 547.1,697.0 548.5,701.1C549.8,705.1 550.4,713.9 551.2,719.0C551.9,724.0 552.7,729.4 553.0,731.5" stroke="#fa6e4b" stroke-width="4.2"/>
<path d="M553.9,715.4C554.9,712.7 558.2,702.6 560.1,699.3C562.1,696.0 563.7,694.8 565.5,695.7C567.3,696.6 569.7,700.5 570.9,704.6C572.0,708.8 572.0,715.1 572.6,720.7C573.2,726.4 574.1,735.7 574.4,738.6" stroke="#fa6e4b" stroke-width="4.2"/>
<path d="M583.4,749.4C584.1,747.3 586.7,740.1 587.9,736.9C589.0,733.6 589.5,730.1 590.5,730.1C591.6,730.1 592.9,734.2 594.1,736.9C595.3,739.5 596.5,746.4 597.7,745.8C598.9,745.2 599.8,736.0 601.3,733.3C602.8,730.6 604.9,728.5 606.6,729.7C608.4,730.9 610.5,736.4 612.0,740.4C613.5,744.5 615.0,751.6 615.6,753.9" stroke="#fa6e4b" stroke-width="4.2"/>
<path d="M562.8,549.8l0.01,0" stroke="#fa6e4b" stroke-width="6.3"/>
<path d="M562.8,574.9l0.01,0" stroke="#fa6e4b" stroke-width="8"/>
<path d="M562.8,597.6l0.01,0" stroke="#fa6e4b" stroke-width="8"/>
<path d="M825.7,348.6C825.2,347.1 823.5,343.1 822.7,339.7C821.9,336.2 821.2,332.7 820.9,327.7C820.5,322.8 820.4,315.3 820.6,309.8C820.8,304.4 821.1,298.5 822.1,294.9C823.0,291.3 824.5,289.7 826.3,288.4C828.0,287.0 830.9,286.5 832.8,286.6C834.7,286.7 836.6,287.6 837.6,288.9C838.6,290.3 838.9,292.7 838.8,294.9C838.7,297.1 838.1,300.0 837.0,302.1C835.9,304.2 833.6,305.9 832.2,307.4C830.8,309.0 828.8,310.4 828.6,311.6C828.4,312.8 829.6,313.7 831.0,314.6C832.4,315.5 835.2,315.8 837.0,317.0C838.8,318.2 841.0,320.0 841.8,321.8C842.6,323.6 842.4,325.9 841.8,327.7C841.2,329.5 839.6,331.5 838.2,332.5C836.8,333.5 834.6,333.8 833.4,333.7C832.2,333.6 831.4,332.2 831.0,331.9" stroke="#fa6e4b" stroke-width="4.8"/>
<path d="M853.7,329.5C853.9,330.7 854.5,333.6 854.9,336.7C855.2,339.8 855.6,346.1 855.8,348.0" stroke="#fa6e4b" stroke-width="4.8"/>
<path d="M820.6,511.6C820.4,509.6 820.0,504.6 819.7,499.7C819.3,494.7 818.6,487.2 818.5,481.8C818.4,476.3 818.4,471.3 819.1,466.8C819.8,462.4 821.2,457.7 822.7,454.9C824.2,452.1 826.4,450.8 828.0,450.1C829.7,449.4 831.6,449.4 832.8,450.7C834.0,452.0 834.9,455.2 835.2,457.9C835.5,460.6 835.2,464.2 834.6,466.8C834.0,469.5 832.8,472.0 831.6,474.0C830.4,476.0 828.8,477.2 827.4,478.8C826.1,480.4 823.2,482.4 823.3,483.6C823.4,484.7 826.3,484.9 828.0,485.9C829.8,486.9 832.8,487.9 834.0,489.5C835.2,491.1 835.5,493.8 835.2,495.5C834.9,497.2 833.5,498.9 832.2,499.7C830.9,500.5 828.6,500.4 827.4,500.3C826.3,500.2 825.5,499.3 825.1,499.1" stroke="#fa6e4b" stroke-width="4.8"/>
<path d="M842.4,492.5C842.9,492.3 844.4,491.1 845.3,491.3C846.3,491.5 847.8,492.5 848.3,493.7C848.8,494.9 848.7,496.9 848.3,498.5C847.9,500.1 846.6,501.8 845.9,503.2C845.2,504.7 843.9,506.6 844.2,507.4C844.5,508.2 845.6,508.2 847.7,508.0C849.8,507.8 855.2,506.5 856.7,506.2" stroke="#fa6e4b" stroke-width="4.8"/>
<path d="M815.8,700.0C815.6,698.1 814.7,693.6 814.3,688.7C813.9,683.8 813.5,676.3 813.4,670.8C813.4,665.3 813.3,659.7 814.0,655.9C814.8,652.1 816.4,649.9 817.9,648.1C819.4,646.3 821.7,645.1 823.3,645.1C824.9,645.1 826.7,646.3 827.4,648.1C828.2,649.9 828.3,653.5 828.0,655.9C827.7,658.3 826.8,660.4 825.7,662.4C824.5,664.5 821.9,666.8 820.9,668.4C819.9,670.0 819.0,671.0 819.7,672.0C820.4,673.0 823.1,673.4 825.1,674.4C827.0,675.4 830.4,676.6 831.6,678.0C832.8,679.4 832.7,681.3 832.2,682.7C831.7,684.1 830.0,685.4 828.6,686.3C827.2,687.2 824.7,687.8 823.9,688.1" stroke="#fa6e4b" stroke-width="4.8"/>
<path d="M836.4,696.5C836.7,695.5 837.4,692.6 838.2,690.5C839.0,688.4 840.4,684.4 841.2,683.9C842.0,683.4 842.3,686.1 843.0,687.5C843.7,688.9 844.6,692.3 845.3,692.3C846.1,692.3 846.8,688.8 847.7,687.5C848.6,686.2 849.7,684.5 850.7,684.5C851.7,684.5 852.8,686.4 853.7,687.5C854.6,688.6 855.3,689.9 856.1,691.1C856.9,692.3 858.1,694.1 858.5,694.7" stroke="#fa6e4b" stroke-width="4.8"/>
<path d="M800.7,845.2C801.5,845.8 803.9,847.3 805.5,848.5C807.1,849.7 808.9,851.3 810.3,852.7C811.7,854.1 812.7,855.1 813.9,856.8C815.1,858.6 816.5,861.1 817.4,863.4C818.4,865.7 819.4,868.2 819.8,870.6C820.2,873.0 820.2,875.7 819.8,877.7C819.4,879.7 818.6,881.5 817.4,882.5C816.3,883.5 814.3,883.9 812.7,883.7C811.1,883.5 808.9,882.7 807.9,881.3C806.9,879.9 806.5,877.7 806.4,875.3C806.3,873.0 806.6,869.6 807.3,867.0C808.0,864.4 809.7,862.0 810.9,859.8C812.1,857.6 813.4,855.7 814.5,853.9C815.6,852.1 816.6,850.4 817.4,849.1C818.3,847.8 819.2,846.6 819.5,846.1" stroke="#eaa840" stroke-width="4.6"/>
<path d="M831.2,862.8C831.2,863.8 831.4,866.0 831.5,868.8C831.6,871.6 831.7,877.7 831.8,879.5" stroke="#eaa840" stroke-width="4.6"/>
<path d="M803.5,1029.6C804.2,1030.1 806.2,1031.5 807.5,1032.5C808.9,1033.5 810.5,1034.5 811.6,1035.7C812.6,1036.8 812.9,1037.7 813.8,1039.2C814.7,1040.8 816.1,1042.7 816.9,1045.1C817.7,1047.4 818.4,1050.6 818.7,1053.6C819.0,1056.5 819.1,1060.0 818.7,1062.5C818.3,1065.0 817.3,1067.4 816.5,1068.3C815.7,1069.2 814.8,1068.8 813.8,1067.9C812.8,1066.9 811.3,1064.9 810.7,1062.5C810.0,1060.1 809.7,1056.5 809.8,1053.6C809.8,1050.6 810.4,1047.1 811.1,1044.6C811.8,1042.1 812.7,1040.4 813.8,1038.8C814.8,1037.2 816.2,1035.9 817.4,1034.8C818.6,1033.6 819.8,1032.8 821.0,1032.1C822.1,1031.3 823.9,1030.6 824.5,1030.3" stroke="#eaa840" stroke-width="4.6"/>
<path d="M837.1,1060.3C836.6,1059.9 835.5,1058.2 834.4,1058.0C833.3,1057.9 831.5,1058.6 830.3,1059.4C829.2,1060.2 828.3,1061.3 827.7,1063.0C827.1,1064.6 826.7,1067.2 826.8,1069.2C826.8,1071.2 827.2,1073.7 828.1,1075.0C829.0,1076.4 830.7,1077.0 832.1,1077.3C833.6,1077.6 835.2,1077.1 836.6,1076.8C838.0,1076.5 840.0,1075.7 840.6,1075.5" stroke="#eaa840" stroke-width="4.6"/>
<path d="M559.7,969.7C559.5,969.1 559.8,967.2 558.8,966.1C557.7,965.1 555.4,963.7 553.4,963.4C551.4,963.2 549.1,963.4 546.8,964.6C544.6,965.9 541.7,968.1 539.7,970.9C537.7,973.6 535.8,977.3 534.9,981.0C534.0,984.7 533.9,989.4 534.3,993.0C534.7,996.5 535.7,999.5 537.3,1002.5C538.9,1005.5 541.6,1008.7 543.9,1010.9C546.2,1013.0 548.6,1014.7 551.0,1015.6C553.4,1016.5 555.8,1016.6 558.2,1016.2C560.6,1015.8 562.5,1014.7 565.3,1013.2C568.2,1011.8 573.8,1008.3 575.5,1007.3" stroke="#eaa840" stroke-width="4.3"/>
<path d="M591.0,993.6C590.9,995.2 590.6,998.8 590.4,1003.7C590.3,1008.6 590.2,1019.6 590.1,1022.8" stroke="#eaa840" stroke-width="4.3"/>
<path d="M558.4,1233.9C558.2,1233.1 558.3,1230.3 557.3,1229.4C556.2,1228.5 554.2,1227.9 552.1,1228.3C550.0,1228.6 546.8,1229.7 544.6,1231.6C542.4,1233.6 540.0,1236.6 538.6,1239.8C537.3,1243.1 536.8,1247.3 536.4,1251.0C536.0,1254.7 535.9,1258.7 536.4,1262.2C536.9,1265.7 537.8,1269.2 539.4,1271.9C541.0,1274.6 543.6,1277.1 546.1,1278.6C548.6,1280.1 551.6,1280.7 554.3,1280.8C557.0,1281.0 559.8,1280.5 562.5,1279.4C565.2,1278.2 569.3,1275.0 570.7,1274.1" stroke="#eaa840" stroke-width="4.2"/>
<path d="M600.9,1271.9C600.6,1271.4 600.2,1269.5 599.0,1268.9C597.9,1268.4 595.7,1267.9 593.8,1268.5C592.0,1269.2 589.4,1270.6 587.9,1272.6C586.4,1274.7 585.3,1277.7 584.9,1280.8C584.4,1283.9 584.6,1288.4 585.2,1291.3C585.9,1294.1 587.1,1296.5 588.6,1298.0C590.2,1299.5 592.5,1300.1 594.6,1300.2C596.7,1300.4 599.0,1300.1 601.3,1298.7C603.5,1297.4 606.9,1293.1 608.0,1292.0" stroke="#eaa840" stroke-width="4.2"/>
<path d="M557.0,1081.0l0.01,0" stroke="#eaa840" stroke-width="8"/>
<path d="M558.8,1111.0l0.01,0" stroke="#eaa840" stroke-width="6"/>
<path d="M561.0,1133.5L560.5,1138.0" stroke="#eaa840" stroke-width="6"/>
<path d="M876.0,528.5l0.01,0" stroke="#fa6e4b" stroke-width="1.8"/>
<path d="M877.5,875.0l0.01,0" stroke="#eaa840" stroke-width="1.8"/>
<path d="M81.3,476.5C81.3,473.0 80.9,462.7 81.3,455.4C81.7,448.1 82.5,439.6 83.6,432.7C84.7,425.8 86.7,418.1 88.1,413.9C89.5,409.6 90.6,407.1 91.9,407.1C93.1,407.1 94.3,409.6 95.7,413.9C97.0,418.1 98.7,426.4 100.2,432.7C101.7,439.0 103.7,446.2 104.7,451.6C105.7,457.0 105.7,465.8 106.2,465.2C106.7,464.5 107.0,454.5 107.7,447.8C108.5,441.2 109.6,430.6 110.7,425.2C111.9,419.8 113.6,416.1 114.9,415.4C116.2,414.6 117.0,417.1 118.3,420.7C119.6,424.2 121.6,431.3 122.8,436.5C124.1,441.7 125.1,445.4 125.8,451.6C126.6,457.8 127.1,469.8 127.3,473.5" stroke="#fa6e4b" stroke-width="4.2"/>
<path d="M127.7,441.8C128.8,440.5 131.6,436.1 134.1,434.2C136.7,432.4 140.6,430.4 142.8,430.5C145.1,430.5 146.5,432.4 147.7,434.6C149.0,436.9 149.5,440.7 150.4,444.0C151.2,447.4 152.1,451.7 152.6,454.6C153.2,457.5 153.6,460.3 153.8,461.4" stroke="#fa6e4b" stroke-width="4.2"/>
<path d="M153.8,461.4C152.9,460.4 150.5,457.1 148.5,455.4C146.5,453.6 143.8,451.5 141.7,450.8C139.5,450.2 137.5,450.5 135.6,451.6C133.8,452.7 131.3,455.2 130.4,457.6C129.4,460.0 129.2,463.7 130.0,465.9C130.7,468.2 132.8,470.2 134.9,471.2C137.0,472.2 139.9,472.6 142.4,472.0C145.0,471.3 147.8,469.1 150.0,467.4C152.1,465.8 153.4,464.7 155.3,462.2C157.2,459.6 159.3,456.2 161.3,452.3C163.3,448.4 166.0,441.3 167.3,438.8C168.7,436.2 169.0,435.7 169.6,437.3C170.2,438.8 170.7,443.0 171.1,447.8C171.5,452.7 171.9,463.2 172.0,466.3" stroke="#fa6e4b" stroke-width="4.2"/>
<path d="M173.4,449.3C174.3,446.8 176.8,438.9 178.7,434.2C180.5,429.6 183.1,424.7 184.7,421.4C186.3,418.1 187.9,413.4 188.5,414.6C189.0,415.9 188.4,423.4 188.1,429.0C187.8,434.5 187.0,441.0 186.6,447.8C186.1,454.6 185.6,466.1 185.4,469.7" stroke="#fa6e4b" stroke-width="4.2"/>
<path d="M203.6,429.7C202.7,431.5 200.2,436.2 198.3,440.3C196.4,444.3 193.5,450.6 192.2,453.9C191.0,457.1 189.7,458.6 190.7,459.9C191.7,461.2 195.1,461.5 198.3,461.8C201.4,462.0 205.9,461.7 209.6,461.4C213.2,461.1 216.6,460.4 220.2,460.0C223.7,459.7 229.0,459.3 230.7,459.1" stroke="#fa6e4b" stroke-width="4.2"/>
<path d="M214.6,460.6C215.6,459.5 218.6,456.6 220.7,453.9C222.7,451.1 225.6,447.3 226.7,444.0C227.8,440.8 227.9,436.5 227.4,434.2C226.9,432.0 225.1,430.3 223.7,430.5C222.3,430.6 220.2,432.1 219.1,435.0C218.1,437.9 217.6,443.4 217.3,447.8C216.9,452.2 216.3,457.9 216.9,461.4C217.4,464.9 219.0,467.4 220.7,468.9C222.3,470.5 224.7,471.1 226.7,470.5C228.7,469.8 230.7,467.7 232.7,465.2C234.7,462.7 236.9,459.0 238.8,455.4C240.7,451.7 243.2,445.3 244.0,443.3" stroke="#fa6e4b" stroke-width="4.2"/>
<path d="M228.2,447.8C230.2,446.9 236.4,444.3 240.3,442.5C244.2,440.8 247.8,438.5 251.6,437.3C255.4,436.0 259.8,435.2 262.9,435.0C266.1,434.7 268.7,434.9 270.5,435.7C272.2,436.6 272.8,437.0 273.5,440.3C274.1,443.5 274.1,450.5 274.2,455.4C274.4,460.2 274.4,467.0 274.4,469.3" stroke="#fa6e4b" stroke-width="4.2"/>
<path d="M246.7,413.9C246.3,416.4 244.9,423.3 244.2,429.0C243.5,434.6 242.4,442.5 242.5,447.8C242.7,453.1 243.6,457.1 245.2,460.6C246.7,464.2 249.8,467.8 252.0,468.9C254.1,470.1 256.2,468.4 258.0,467.4C259.8,466.5 262.1,464.0 262.9,463.3" stroke="#fa6e4b" stroke-width="4.2"/>
<path d="M255.4,417.6C256.0,418.6 257.3,422.2 259.1,423.7C261.0,425.2 264.2,425.8 266.7,426.7C269.2,427.6 273.0,428.6 274.2,429.0" stroke="#fa6e4b" stroke-width="4.2"/>
<path d="M291.2,442.9C290.9,444.4 289.8,448.3 289.3,451.6C288.8,454.9 288.2,458.9 288.2,462.9C288.1,466.9 288.2,474.7 288.9,475.4C289.6,476.0 291.1,470.6 292.3,466.7C293.5,462.7 294.7,457.0 296.1,451.6C297.5,446.2 299.6,437.9 300.6,434.2C301.7,430.6 301.5,428.9 302.3,429.9C303.1,430.9 304.2,435.4 305.3,440.3C306.4,445.2 307.7,453.9 309.1,459.1C310.5,464.4 312.9,469.8 313.6,472.0" stroke="#fa6e4b" stroke-width="4.2"/>
<path d="M335.7,434.6C334.3,434.6 329.6,433.7 327.0,434.6C324.5,435.6 322.0,437.4 320.6,440.3C319.3,443.1 318.9,447.8 319.1,451.6C319.4,455.4 320.6,460.3 322.1,462.9C323.7,465.5 326.2,467.3 328.2,467.1C330.2,466.8 333.0,464.6 334.2,461.4C335.4,458.2 335.2,452.3 335.5,447.8C335.8,443.4 336.1,433.4 336.1,434.6C336.1,435.9 335.9,448.1 335.7,455.4C335.5,462.6 335.0,470.5 335.0,478.0C334.9,485.5 335.8,495.1 335.3,500.6C334.9,506.2 333.8,508.1 332.3,511.2C330.8,514.3 328.8,517.5 326.3,519.5C323.8,521.5 320.0,522.8 317.2,523.3C314.5,523.8 310.9,522.6 309.7,522.5" stroke="#fa6e4b" stroke-width="4.2"/>
<path d="M96.4,504.0C95.7,503.3 93.8,500.6 91.9,500.2C90.0,499.8 87.2,500.2 85.1,501.7C83.0,503.2 80.3,505.7 79.1,509.2C77.8,512.8 77.3,518.4 77.5,522.8C77.8,527.2 78.8,532.5 80.6,535.6C82.3,538.8 85.5,540.9 88.1,541.7C90.8,542.4 93.1,542.2 96.4,540.2C99.7,538.2 105.8,531.4 107.7,529.6" stroke="#fa6e4b" stroke-width="4.2"/>
<path d="M112.3,478.3C112.1,481.9 111.4,492.8 111.5,500.2C111.6,507.6 112.6,516.3 113.0,522.8C113.4,529.4 114.0,536.7 114.1,539.4" stroke="#fa6e4b" stroke-width="4.2"/>
<path d="M115.3,522.8C116.3,519.7 119.4,508.1 121.3,504.0C123.2,499.8 125.1,497.9 126.6,497.9C128.1,497.9 129.2,500.4 130.4,504.0C131.5,507.5 132.5,514.0 133.4,519.0C134.3,524.1 135.1,529.4 135.6,534.1C136.1,538.9 136.3,545.5 136.4,547.7" stroke="#fa6e4b" stroke-width="4.2"/>
<path d="M137.9,505.5C139.2,504.6 142.4,501.3 145.5,500.2C148.5,499.1 153.4,497.9 156.0,498.7C158.7,499.4 159.9,501.9 161.3,504.7C162.7,507.5 163.3,511.6 164.3,515.3C165.3,518.9 166.2,523.8 167.3,526.6C168.5,529.4 170.5,531.0 171.1,531.9" stroke="#fa6e4b" stroke-width="4.2"/>
<path d="M171.1,531.9C170.0,530.9 167.3,527.8 164.3,525.8C161.3,523.8 156.1,520.7 153.0,519.8C149.9,518.9 147.4,519.3 145.5,520.6C143.5,521.8 141.7,524.6 141.3,527.3C140.9,530.1 141.5,534.6 143.2,537.2C144.9,539.7 148.6,541.8 151.5,542.4C154.4,543.1 157.8,542.2 160.5,540.9C163.3,539.6 166.3,536.3 168.1,534.5C169.9,532.8 170.9,531.1 171.5,530.4" stroke="#fa6e4b" stroke-width="4.2"/>
<path d="M184.1,496.4C183.9,499.6 183.3,508.6 183.2,515.3C183.0,521.9 183.2,532.9 183.2,536.4" stroke="#fa6e4b" stroke-width="4.2"/>
<path d="M185.4,512.3C186.3,510.0 189.1,501.6 190.7,498.7C192.4,495.8 193.7,494.1 195.3,494.9C196.8,495.7 198.5,499.2 199.8,503.2C201.0,507.2 201.9,513.9 202.8,519.0C203.7,524.2 204.4,529.9 205.1,534.1C205.7,538.4 206.3,542.9 206.6,544.7" stroke="#fa6e4b" stroke-width="4.2"/>
<path d="M216.3,500.2C216.3,502.7 216.0,509.0 216.3,515.3C216.5,521.6 217.5,534.1 217.8,537.9" stroke="#fa6e4b" stroke-width="4.2"/>
<path d="M217.6,509.2C218.3,507.5 220.2,501.3 221.6,499.1C223.0,496.8 224.7,495.6 226.1,496.0C227.5,496.5 228.5,498.2 229.9,501.7C231.2,505.1 232.9,511.4 234.4,516.8C235.9,522.2 237.8,530.1 238.9,534.1C240.0,538.2 240.7,539.8 241.0,540.9" stroke="#fa6e4b" stroke-width="4.2"/>
<path d="M243.3,512.3C244.8,512.8 249.3,515.5 252.3,515.3C255.4,515.0 258.8,512.9 261.4,510.7C264.0,508.6 267.1,505.1 268.2,502.4C269.3,499.8 269.1,496.7 268.2,494.9C267.3,493.1 265.0,491.6 262.9,491.5C260.8,491.4 257.6,492.4 255.4,494.5C253.1,496.6 250.8,499.9 249.3,504.0C247.8,508.0 246.4,514.4 246.5,519.0C246.5,523.7 247.6,528.2 249.5,531.9C251.3,535.5 254.8,539.5 257.6,540.9C260.5,542.4 263.9,541.7 266.7,540.6C269.4,539.4 272.0,536.8 274.2,534.1C276.5,531.4 279.2,527.5 280.3,524.3C281.3,521.2 280.6,516.8 280.6,515.3" stroke="#fa6e4b" stroke-width="4.2"/>
<path d="M280.6,515.3C280.3,512.8 279.1,505.0 278.8,500.2C278.4,495.4 278.6,490.0 278.8,486.6C278.9,483.2 279.2,478.8 279.7,479.8C280.2,480.8 281.5,488.0 281.8,492.6C282.1,497.3 281.6,503.3 281.4,507.7C281.2,512.1 280.5,515.5 280.6,519.0C280.8,522.6 280.9,526.0 282.2,528.9C283.4,531.7 285.7,534.3 288.2,536.4C290.6,538.5 293.5,540.3 296.9,541.7C300.2,543.1 304.8,544.6 308.2,544.7C311.6,544.8 314.7,543.8 317.2,542.4C319.8,541.1 322.1,538.7 323.3,536.4C324.4,534.1 324.8,531.2 324.2,528.9C323.6,526.5 321.9,523.8 319.7,522.1C317.4,520.3 314.2,519.5 310.4,518.3C306.6,517.0 300.0,515.9 296.9,514.5C293.7,513.1 292.4,512.0 291.7,510.0C291.1,508.0 291.6,504.8 293.1,502.4C294.6,500.1 297.7,497.5 300.6,495.7C303.5,493.8 307.3,492.0 310.4,491.1C313.6,490.3 317.3,489.7 319.5,490.5C321.7,491.3 322.8,495.1 323.4,496.0" stroke="#fa6e4b" stroke-width="4.2"/>
<path d="M94.3,1025.8C93.6,1024.9 91.8,1021.2 89.7,1020.0C87.6,1018.9 84.5,1017.9 81.6,1018.9C78.7,1019.8 75.1,1022.4 72.4,1025.8C69.7,1029.3 66.9,1034.5 65.4,1039.7C64.0,1044.9 63.5,1052.1 63.7,1057.1C63.9,1062.1 64.7,1066.3 66.6,1069.8C68.4,1073.3 71.6,1076.2 74.7,1077.9C77.8,1079.6 81.6,1080.6 85.1,1080.2C88.6,1079.8 93.8,1076.3 95.5,1075.6" stroke="#eaa840" stroke-width="4.2"/>
<path d="M109.4,1045.5C110.3,1044.4 113.0,1040.5 115.2,1039.1C117.3,1037.8 120.0,1036.9 122.1,1037.4C124.2,1037.9 126.4,1039.6 127.9,1042.3C129.3,1045.0 130.8,1049.6 130.8,1053.6C130.8,1057.6 129.7,1062.7 127.9,1066.3C126.1,1070.0 122.9,1073.3 119.8,1075.6C116.7,1077.9 112.7,1080.0 109.4,1080.2C106.1,1080.4 102.2,1079.2 100.1,1076.7C98.0,1074.2 97.2,1069.0 96.9,1065.2C96.5,1061.3 96.9,1057.4 98.0,1053.6C99.2,1049.8 101.4,1045.1 103.8,1042.3C106.3,1039.5 110.0,1037.7 112.9,1036.8C115.7,1036.0 119.6,1037.1 120.9,1037.2" stroke="#eaa840" stroke-width="4.2"/>
<path d="M145.2,1045.5C145.1,1048.4 144.7,1057.3 144.3,1062.9C144.0,1068.4 143.4,1076.3 143.2,1079.0" stroke="#eaa840" stroke-width="4.2"/>
<path d="M144.1,1060.5C145.4,1057.6 149.9,1047.4 152.2,1043.2C154.5,1039.0 156.2,1034.9 158.0,1035.3C159.7,1035.7 161.3,1040.9 162.6,1045.5C164.0,1050.1 164.9,1057.3 166.1,1062.9C167.2,1068.4 168.6,1076.2 169.5,1079.0C170.5,1081.9 171.5,1080.0 171.9,1080.2" stroke="#eaa840" stroke-width="4.2"/>
<path d="M183.4,1020.0C183.4,1024.3 183.3,1037.4 183.4,1045.5C183.5,1053.6 183.0,1063.4 184.0,1068.6C185.0,1073.8 187.0,1075.8 189.2,1076.7C191.4,1077.7 195.2,1075.3 197.3,1074.4C199.4,1073.5 201.2,1071.7 201.9,1071.2" stroke="#eaa840" stroke-width="4.2"/>
<path d="M169.5,1037.6C171.7,1037.9 176.3,1039.0 182.3,1039.1C188.2,1039.3 201.6,1038.6 205.4,1038.6" stroke="#eaa840" stroke-width="4.2"/>
<path d="M210.0,1043.2C210.1,1045.5 210.1,1051.9 210.3,1057.1C210.5,1062.3 211.0,1071.5 211.2,1074.4" stroke="#eaa840" stroke-width="4.2"/>
<path d="M210.0,1045.5C210.8,1044.4 212.7,1039.9 214.9,1038.8C217.1,1037.6 219.8,1038.2 223.0,1038.6C226.2,1038.9 231.1,1040.6 234.3,1040.9C237.6,1041.1 241.3,1040.1 242.7,1039.9" stroke="#eaa840" stroke-width="4.2"/>
<path d="M242.7,1039.9C241.5,1041.1 237.8,1043.4 235.7,1046.7C233.6,1049.9 230.9,1054.9 229.9,1059.4C229.0,1063.8 228.6,1069.4 229.9,1073.3C231.3,1077.2 235.1,1081.6 238.0,1082.8C240.9,1083.9 244.2,1083.2 247.3,1080.4C250.4,1077.7 254.6,1071.2 256.6,1066.3C258.5,1061.5 259.3,1055.7 258.9,1051.3C258.5,1046.8 256.6,1042.6 254.2,1039.7C251.9,1036.9 247.1,1034.9 245.0,1034.2C242.8,1033.4 241.9,1035.1 241.3,1035.3" stroke="#eaa840" stroke-width="4.2"/>
<path d="M277.1,1015.4C276.6,1016.6 274.6,1018.3 273.9,1022.4C273.2,1026.4 272.9,1033.0 272.7,1039.7C272.6,1046.5 272.6,1056.1 272.7,1062.9C272.9,1069.6 272.9,1074.7 273.7,1080.2C274.4,1085.7 276.6,1093.0 277.1,1095.6" stroke="#eaa840" stroke-width="4.2"/>
<path d="M48.6,1114.0C49.2,1114.4 51.5,1113.5 52.2,1116.2C53.0,1119.0 53.1,1125.1 53.3,1130.3C53.5,1135.5 53.3,1144.6 53.3,1147.5" stroke="#eaa840" stroke-width="4.2"/>
<path d="M54.1,1121.2C54.7,1118.2 56.6,1106.6 57.7,1103.1C58.8,1099.7 59.4,1099.7 60.6,1100.6C61.7,1101.5 63.4,1104.3 64.5,1108.5C65.5,1112.7 66.0,1119.4 66.7,1125.7C67.4,1132.1 68.4,1143.1 68.7,1146.6" stroke="#eaa840" stroke-width="4.2"/>
<path d="M69.3,1119.4C69.7,1117.2 71.2,1108.1 72.2,1106.0C73.1,1103.9 73.9,1104.4 75.1,1106.9C76.2,1109.4 77.6,1116.4 79.0,1121.2C80.3,1126.0 81.6,1132.1 83.0,1135.7C84.5,1139.3 85.7,1141.9 87.6,1143.0C89.4,1144.0 92.8,1142.2 93.9,1142.0" stroke="#eaa840" stroke-width="4.2"/>
<path d="M93.9,1142.0C94.8,1140.8 97.8,1138.0 99.3,1134.8C100.8,1131.6 102.2,1127.0 103.0,1123.0C103.7,1119.1 104.2,1114.9 103.9,1111.3C103.6,1107.6 102.3,1103.0 101.1,1101.3C99.9,1099.6 98.0,1099.3 96.6,1100.8C95.2,1102.4 93.4,1106.2 92.5,1110.4C91.6,1114.5 90.9,1121.1 91.2,1125.7C91.5,1130.4 92.7,1135.0 94.3,1138.4C96.0,1141.9 98.3,1144.6 101.1,1146.6C103.9,1148.5 107.6,1149.6 111.1,1150.2C114.6,1150.8 118.6,1150.9 122.0,1150.4C125.3,1149.8 128.8,1148.1 131.0,1146.8C133.3,1145.4 134.8,1143.0 135.5,1142.2" stroke="#eaa840" stroke-width="4.2"/>
<path d="M108.4,1116.7C110.0,1115.3 115.0,1109.6 118.3,1108.1C121.7,1106.6 125.8,1106.5 128.3,1107.6C130.8,1108.8 132.1,1111.1 133.3,1114.9C134.5,1118.7 134.8,1125.0 135.5,1130.3C136.3,1135.6 137.4,1143.9 137.8,1146.6" stroke="#eaa840" stroke-width="4.2"/>
<path d="M119.2,1142.0C118.8,1141.6 117.4,1141.0 116.5,1139.3C115.7,1137.7 114.0,1134.6 114.0,1132.1C114.0,1129.5 115.1,1125.6 116.7,1124.1C118.3,1122.6 121.5,1122.0 123.8,1123.0C126.0,1124.1 128.3,1127.6 130.1,1130.3C131.9,1133.0 133.3,1136.5 134.6,1139.3C136.0,1142.2 137.7,1146.1 138.3,1147.5" stroke="#eaa840" stroke-width="4.2"/>
<path d="M163.6,1110.8C162.4,1110.2 159.2,1107.9 156.4,1107.2C153.5,1106.4 149.4,1105.5 146.4,1106.3C143.5,1107.0 140.0,1109.7 138.7,1111.7C137.4,1113.7 137.7,1116.5 138.7,1118.5C139.7,1120.5 142.1,1122.2 144.6,1123.9C147.1,1125.7 151.1,1127.0 153.7,1128.9C156.2,1130.9 158.8,1133.2 160.0,1135.7C161.2,1138.2 162.0,1141.6 160.9,1143.9C159.8,1146.1 156.7,1148.3 153.7,1149.3C150.6,1150.3 145.4,1150.3 142.8,1149.7C140.2,1149.1 139.0,1146.3 138.3,1145.7" stroke="#eaa840" stroke-width="4.2"/>
<path d="M171.3,1104.5C171.0,1107.3 170.0,1115.4 169.5,1121.2C169.0,1127.0 167.9,1135.5 168.6,1139.3C169.3,1143.2 171.5,1143.6 173.6,1144.3C175.6,1145.0 178.7,1144.7 180.8,1143.4C182.9,1142.1 185.0,1140.3 186.3,1136.6C187.5,1132.9 187.8,1126.6 188.1,1121.2C188.4,1115.9 188.0,1103.0 188.1,1104.5C188.1,1106.0 188.2,1123.7 188.5,1130.3C188.8,1136.8 188.4,1141.4 189.9,1143.9C191.3,1146.3 194.4,1145.2 197.1,1145.2C199.8,1145.2 204.7,1144.1 206.2,1143.9" stroke="#eaa840" stroke-width="4.2"/>
<path d="M209.0,1145.5C209.0,1143.3 208.7,1136.7 208.9,1132.3C209.1,1127.8 209.3,1122.7 210.2,1119.0C211.1,1115.3 212.9,1112.1 214.4,1109.9C215.9,1107.7 217.9,1105.8 219.2,1105.8C220.5,1105.8 221.7,1107.7 222.3,1109.9C222.8,1112.1 222.5,1117.5 222.6,1119.0" stroke="#eaa840" stroke-width="4.2"/>
<path d="M231.3,1134.1C232.6,1132.6 236.8,1128.0 239.2,1125.0C241.5,1122.0 244.1,1119.2 245.2,1116.0C246.3,1112.8 246.5,1108.3 245.9,1105.8C245.3,1103.3 243.3,1101.8 241.7,1101.0C240.1,1100.2 238.2,1100.2 236.3,1101.0C234.3,1101.8 232.0,1103.6 230.2,1105.8C228.4,1108.0 226.5,1111.2 225.4,1114.1C224.3,1117.0 223.5,1120.0 223.6,1123.2C223.7,1126.4 224.7,1130.7 226.0,1133.5C227.3,1136.2 229.0,1138.4 231.4,1139.6C233.8,1140.8 237.4,1141.0 240.4,1140.8C243.4,1140.6 246.7,1139.7 249.4,1138.3C252.1,1136.9 254.9,1134.1 256.7,1132.3C258.4,1130.4 259.2,1128.2 259.7,1127.4" stroke="#eaa840" stroke-width="4.2"/>
<path d="M260.3,1147.3C260.4,1143.8 260.7,1132.8 260.9,1126.2C261.0,1119.7 260.6,1111.6 261.2,1108.1C261.8,1104.6 263.2,1105.9 264.5,1105.1C265.8,1104.2 267.4,1102.5 268.7,1103.0C270.0,1103.5 271.6,1105.2 272.4,1108.1C273.1,1111.0 273.3,1114.8 273.3,1120.2C273.2,1125.5 272.3,1136.8 272.1,1140.1" stroke="#eaa840" stroke-width="4.2"/>
<path d="M276.6,1117.2C277.1,1115.2 278.6,1106.9 279.6,1105.1C280.6,1103.3 281.7,1103.8 282.6,1106.3C283.5,1108.8 284.0,1115.3 285.0,1120.2C286.0,1125.1 287.2,1132.2 288.6,1135.9C290.1,1139.5 291.6,1140.9 293.5,1142.0C295.4,1143.1 298.9,1142.4 300.0,1142.5" stroke="#eaa840" stroke-width="4.2"/>
<path d="M290.0,1140.9C291.8,1140.4 298.0,1140.2 301.1,1138.1C304.1,1136.0 306.7,1131.5 308.3,1128.2C309.8,1124.8 310.6,1121.3 310.5,1118.2C310.4,1115.1 309.1,1111.2 307.7,1109.3C306.3,1107.5 303.9,1106.9 302.2,1107.1C300.4,1107.4 298.2,1108.7 297.2,1111.0C296.2,1113.3 295.9,1117.3 296.1,1121.0C296.3,1124.7 297.2,1129.8 298.3,1133.1C299.4,1136.5 301.0,1139.0 302.7,1140.9C304.5,1142.8 306.8,1144.5 308.8,1144.8C310.8,1145.0 312.9,1144.0 314.9,1142.6C316.9,1141.1 319.4,1139.0 321.0,1135.9C322.6,1132.8 323.6,1128.6 324.3,1123.7C325.0,1118.8 325.0,1107.5 325.0,1106.6C325.0,1105.7 324.7,1113.5 324.3,1118.2C324.0,1122.9 323.3,1129.3 322.9,1134.8C322.6,1140.3 321.6,1149.6 322.1,1151.4C322.6,1153.3 324.7,1149.6 326.0,1145.9C327.3,1142.2 328.5,1135.3 329.8,1129.3C331.2,1123.3 333.2,1114.6 334.3,1109.9C335.4,1105.2 335.8,1100.6 336.5,1101.0C337.2,1101.5 337.7,1108.4 338.4,1112.7C339.2,1116.9 339.9,1122.8 340.9,1126.5C341.9,1130.2 342.9,1133.6 344.2,1134.8C345.5,1136.0 347.4,1135.1 348.7,1133.7C350.0,1132.3 351.2,1130.0 352.0,1126.5C352.8,1123.0 353.4,1115.0 353.6,1112.7" stroke="#eaa840" stroke-width="4.2"/>
<path d="M353.6,1092.2C353.6,1094.7 353.3,1101.9 353.2,1107.1C353.1,1112.4 352.8,1119.1 353.2,1123.7C353.6,1128.3 354.1,1132.1 355.4,1134.8C356.7,1137.5 359.1,1139.3 360.9,1139.8C362.8,1140.2 365.3,1138.2 366.5,1137.6C367.7,1136.9 367.8,1136.2 368.0,1135.9" stroke="#eaa840" stroke-width="4.2"/>
<path d="M338.7,1107.1C340.7,1107.0 345.2,1106.7 350.9,1106.6C356.6,1106.4 366.9,1106.4 373.0,1106.3C379.1,1106.2 385.0,1106.1 387.4,1106.0" stroke="#eaa840" stroke-width="4.2"/>
<path d="M387.4,1106.0C385.0,1106.5 376.1,1107.7 373.0,1108.8C369.9,1109.9 369.0,1111.1 368.6,1112.7C368.1,1114.2 368.6,1116.4 370.2,1118.2C371.9,1120.0 375.7,1121.7 378.5,1123.7C381.4,1125.8 385.7,1128.3 387.4,1130.4C389.1,1132.4 389.1,1134.2 388.5,1135.9C388.0,1137.7 386.2,1139.6 384.1,1140.9C382.0,1142.2 378.5,1143.0 375.8,1143.7C373.0,1144.3 368.9,1144.6 367.5,1144.8" stroke="#eaa840" stroke-width="4.2"/>
<path d="M1604.9,600.1C1605.2,594.7 1605.7,577.9 1606.3,567.5C1606.9,557.1 1607.4,542.2 1608.3,537.7C1609.2,533.1 1609.1,536.5 1611.7,540.4C1614.3,544.2 1620.1,553.3 1624.0,560.7C1627.8,568.2 1632.2,579.3 1634.8,585.2C1637.4,591.1 1638.3,600.1 1639.6,596.1C1640.8,592.0 1641.7,572.1 1642.3,560.7C1642.9,549.4 1643.1,533.6 1643.2,528.1" stroke="#2b2a26" stroke-width="3.5"/>
<path d="M1661.3,551.2C1661.2,555.1 1660.4,567.2 1660.6,574.3C1660.8,581.5 1661.3,590.1 1662.7,594.0C1664.0,598.0 1666.2,597.8 1668.8,598.1C1671.4,598.4 1675.6,598.0 1678.3,596.1C1681.0,594.1 1684.3,594.0 1685.1,586.5C1685.9,579.1 1683.4,557.1 1683.0,551.2" stroke="#2b2a26" stroke-width="3.5"/>
<path d="M1683.0,551.2C1683.1,555.5 1682.9,570.0 1683.7,577.0C1684.5,584.1 1685.5,590.2 1687.8,593.3C1690.0,596.5 1694.1,596.1 1697.3,596.1C1700.5,596.1 1705.2,593.8 1706.8,593.3" stroke="#2b2a26" stroke-width="3.5"/>
<path d="M1706.8,596.1C1707.1,592.0 1708.2,579.0 1708.8,571.6C1709.5,564.3 1710.8,553.0 1710.9,551.9C1711.0,550.8 1708.6,565.0 1709.5,564.8C1710.4,564.6 1714.3,552.4 1716.3,550.6C1718.3,548.7 1720.4,550.0 1721.7,554.0C1723.1,557.9 1724.2,567.3 1724.5,574.3C1724.7,581.3 1723.3,592.4 1723.1,596.1" stroke="#2b2a26" stroke-width="3.5"/>
<path d="M1726.5,577.0C1727.7,573.2 1731.8,558.0 1734.0,554.0C1736.1,549.9 1738.0,549.2 1739.4,552.6C1740.8,556.0 1741.4,567.0 1742.1,574.3C1742.8,581.7 1743.2,593.0 1743.5,596.7" stroke="#2b2a26" stroke-width="3.5"/>
<path d="M1754.6,521.4C1753.9,523.4 1751.2,527.0 1750.3,533.6C1749.3,540.1 1749.4,552.1 1748.9,560.7C1748.4,569.3 1747.2,579.2 1747.5,585.2C1747.9,591.2 1748.9,594.5 1750.9,596.7C1753.0,599.0 1756.7,599.8 1759.8,598.8C1762.8,597.8 1767.2,594.7 1769.3,590.6C1771.3,586.5 1772.0,580.3 1772.0,574.3C1772.0,568.3 1770.9,559.2 1769.3,554.6C1767.7,550.1 1764.7,547.2 1762.5,547.2C1760.2,547.2 1756.8,553.4 1755.7,554.6" stroke="#2b2a26" stroke-width="3.5"/>
<path d="M1780.1,574.3C1783.5,573.7 1795.3,572.7 1800.5,570.5C1805.7,568.3 1810.0,564.9 1811.4,561.0C1812.8,557.2 1811.4,549.9 1808.9,547.4C1806.5,544.9 1800.8,544.3 1796.7,546.1C1792.6,547.9 1787.0,553.6 1784.5,558.3C1782.0,563.0 1781.3,569.1 1781.8,574.3C1782.2,579.5 1784.0,586.3 1787.2,589.5C1790.4,592.8 1796.5,593.4 1800.8,593.6C1805.1,593.8 1811.0,591.1 1813.0,590.6" stroke="#2b2a26" stroke-width="3.5"/>
<path d="M1822.5,596.1C1823.0,592.4 1824.1,581.3 1825.2,574.3C1826.4,567.4 1828.6,557.6 1829.3,554.2" stroke="#2b2a26" stroke-width="3.5"/>
<path d="M1823.9,562.1C1825.4,560.1 1830.7,552.0 1833.1,550.2C1835.6,548.3 1836.5,550.2 1838.5,551.2C1840.6,552.3 1844.2,555.8 1845.3,556.7" stroke="#2b2a26" stroke-width="3.5"/>
<path d="M1621.0,625.4C1619.6,625.6 1614.9,624.6 1612.5,627.0C1610.2,629.4 1607.8,634.8 1606.9,639.7C1606.0,644.6 1605.7,652.3 1606.9,656.3C1608.1,660.3 1611.1,662.9 1613.9,663.7C1616.8,664.4 1621.0,663.7 1623.8,660.8C1626.6,658.0 1629.4,651.5 1630.8,646.8C1632.3,642.1 1633.0,636.4 1632.3,632.7C1631.5,628.9 1628.7,625.6 1626.6,624.2C1624.5,622.8 1620.8,624.2 1619.6,624.2" stroke="#2b2a26" stroke-width="3.5"/>
<path d="M1646.3,681.7C1646.8,677.5 1648.5,665.3 1649.2,656.3C1649.9,647.4 1649.4,635.7 1650.6,628.2C1651.7,620.7 1654.3,615.0 1656.2,611.3C1658.1,607.6 1659.5,605.9 1662.1,605.9C1664.7,606.0 1670.1,610.6 1671.7,611.5" stroke="#2b2a26" stroke-width="3.5"/>
<path d="M1640.7,635.2C1642.8,635.7 1647.7,638.5 1653.4,638.3C1659.0,638.1 1671.0,634.6 1674.5,633.8" stroke="#2b2a26" stroke-width="3.5"/>
<path d="M1729.4,663.4C1729.4,659.9 1729.6,647.7 1729.4,642.3C1729.3,636.9 1728.5,631.9 1728.7,631.0C1729.0,630.0 1729.3,638.5 1730.8,636.6C1732.4,634.8 1736.0,622.2 1737.9,620.0C1739.8,617.8 1740.7,618.4 1742.1,623.2C1743.5,628.1 1744.7,642.6 1746.3,649.3C1748.0,656.0 1750.0,661.8 1752.0,663.7C1754.0,665.5 1757.3,661.1 1758.3,660.6" stroke="#2b2a26" stroke-width="3.5"/>
<path d="M1759.0,635.2C1761.4,635.3 1768.9,636.6 1773.1,635.5C1777.3,634.4 1782.2,631.3 1784.4,628.5C1786.5,625.6 1787.4,620.7 1786.1,618.6C1784.7,616.5 1779.7,614.6 1776.2,615.8C1772.7,616.9 1767.7,621.2 1764.9,625.6C1762.1,630.0 1759.8,636.6 1759.3,642.3C1758.8,647.9 1759.8,655.4 1762.1,659.4C1764.5,663.5 1769.6,666.0 1773.4,666.5C1777.1,666.9 1781.1,664.6 1784.6,662.3C1788.2,659.9 1791.9,658.1 1794.5,652.4C1797.1,646.7 1799.2,632.9 1800.1,628.2C1801.0,623.4 1799.9,624.6 1799.9,623.9" stroke="#2b2a26" stroke-width="3.5"/>
<path d="M1799.9,623.9C1800.1,627.0 1800.1,635.9 1801.3,642.3C1802.4,648.6 1804.6,658.4 1806.9,662.0C1809.2,665.5 1813.0,667.4 1815.4,663.7C1817.7,660.0 1819.6,646.1 1821.0,639.7C1822.4,633.4 1822.9,625.6 1823.8,625.6C1824.7,625.6 1825.0,634.1 1826.6,639.7C1828.3,645.4 1830.8,655.4 1833.7,659.4C1836.5,663.4 1840.7,664.6 1843.5,663.7C1846.3,662.7 1849.1,660.9 1850.6,653.8C1852.0,646.7 1852.0,626.6 1852.3,621.1" stroke="#2b2a26" stroke-width="3.5"/>
<path d="M1622.4,702.4C1622.9,700.6 1625.9,693.9 1625.2,691.4C1624.5,688.9 1621.2,687.2 1618.2,687.2C1615.1,687.2 1610.0,688.1 1606.9,691.4C1603.8,694.7 1600.8,701.5 1599.9,706.9C1598.9,712.3 1599.4,719.6 1601.3,723.8C1603.1,728.0 1607.6,731.1 1611.1,732.3C1614.6,733.4 1619.1,732.5 1622.4,730.8C1625.7,729.2 1629.4,723.8 1630.8,722.4" stroke="#2b2a26" stroke-width="3.5"/>
<path d="M1641.0,693.9C1640.5,697.0 1638.6,706.9 1638.2,712.3C1637.7,717.7 1637.2,722.8 1638.2,726.3C1639.1,729.9 1641.3,732.7 1643.8,733.7C1646.3,734.6 1650.8,734.6 1653.4,732.3C1655.9,729.9 1657.8,725.9 1659.0,719.3C1660.2,712.7 1659.8,691.4 1660.4,692.5C1661.0,693.7 1661.4,719.6 1662.5,726.3C1663.7,733.0 1666.6,731.6 1667.5,732.7" stroke="#2b2a26" stroke-width="3.5"/>
<path d="M1687.2,694.2C1685.5,693.5 1680.1,690.0 1677.3,690.0C1674.5,690.0 1671.6,691.9 1670.3,694.2C1668.9,696.6 1668.5,701.0 1669.2,704.1C1669.9,707.1 1672.2,710.0 1674.5,712.5C1676.8,715.1 1680.8,717.2 1683.0,719.6C1685.1,721.9 1687.2,724.3 1687.2,726.6C1687.2,729.0 1685.5,732.3 1683.0,733.7C1680.4,735.1 1675.0,735.8 1671.7,735.1C1668.4,734.4 1664.6,730.4 1663.2,729.4" stroke="#2b2a26" stroke-width="3.5"/>
<path d="M1708.3,675.6C1707.4,678.2 1704.3,685.4 1702.7,691.1C1701.1,696.8 1699.4,704.3 1698.7,709.7C1698.1,715.2 1697.6,720.5 1698.7,723.8C1699.9,727.1 1702.8,728.5 1705.8,729.4C1708.8,730.4 1713.5,729.7 1716.8,729.7C1720.0,729.7 1724.0,729.5 1725.5,729.4" stroke="#2b2a26" stroke-width="3.5"/>
<path d="M1663.2,698.2C1667.5,697.7 1678.5,696.3 1688.6,695.6C1698.7,694.9 1716.8,694.3 1723.8,693.9C1730.8,693.5 1729.7,693.4 1730.8,693.2" stroke="#2b2a26" stroke-width="3.5"/>
<path d="M1730.8,692.8C1729.2,693.3 1724.0,693.8 1721.0,695.6C1718.0,697.5 1714.6,700.8 1712.8,704.1C1711.0,707.4 1709.8,711.6 1710.0,715.4C1710.2,719.1 1711.6,724.2 1714.2,726.6C1716.8,729.0 1721.5,730.0 1725.5,729.7C1729.5,729.5 1735.1,728.5 1738.2,725.2C1741.2,721.9 1743.3,714.2 1743.8,709.7C1744.3,705.3 1742.9,701.3 1741.0,698.5C1739.1,695.6 1734.9,693.7 1732.5,692.8C1730.1,691.9 1727.6,693.2 1726.6,693.2" stroke="#2b2a26" stroke-width="3.5"/>
<path d="M1757.6,727.7C1758.1,724.0 1758.5,712.2 1760.4,705.2C1762.3,698.2 1766.8,688.1 1768.9,685.8C1771.0,683.5 1772.6,687.0 1773.1,691.4C1773.6,695.8 1772.3,705.7 1772.0,712.3C1771.6,718.8 1771.2,727.5 1771.0,730.6" stroke="#2b2a26" stroke-width="3.5"/>
<path d="M1772.0,719.3C1773.1,715.8 1776.4,703.6 1778.7,698.5C1781.1,693.3 1784.1,688.6 1786.1,688.6C1788.0,688.6 1789.1,692.6 1790.3,698.5C1791.5,704.3 1791.3,718.6 1793.1,723.8C1794.9,729.0 1799.9,728.5 1801.3,729.4" stroke="#2b2a26" stroke-width="3.5"/>
<path d="M1795.6,712.3C1797.7,711.8 1805.0,711.5 1808.3,709.7C1811.6,707.9 1814.6,704.3 1815.4,701.3C1816.1,698.2 1814.6,692.8 1812.8,691.4C1811.0,690.0 1806.9,690.5 1804.4,692.8C1801.8,695.2 1798.7,701.0 1797.3,705.5C1795.9,710.0 1795.2,715.8 1795.9,719.6C1796.6,723.3 1798.7,726.2 1801.5,728.0C1804.4,729.9 1809.3,730.8 1812.8,730.8C1816.3,730.8 1821.0,728.5 1822.7,728.0" stroke="#2b2a26" stroke-width="3.5"/>
<path d="M1832.3,727.7C1832.5,725.2 1833.2,718.3 1833.9,712.3C1834.7,706.2 1836.3,694.9 1836.8,691.4" stroke="#2b2a26" stroke-width="3.5"/>
<path d="M1833.9,709.7C1835.1,707.4 1838.6,698.7 1841.0,695.6C1843.3,692.6 1845.9,692.0 1848.0,691.4C1850.1,690.8 1852.7,692.0 1853.7,692.1" stroke="#2b2a26" stroke-width="3.5"/>
<path d="M1647.0,672.8L1647.7,683.4" stroke="#2b2a26" stroke-width="3.5"/>
<path d="M1603.4,772.5C1603.2,771.6 1601.5,768.8 1602.4,767.0C1603.4,765.1 1606.4,762.5 1609.1,761.2C1611.8,759.9 1615.8,759.1 1618.7,759.3C1621.5,759.5 1624.6,759.8 1626.3,762.2C1628.1,764.5 1628.7,769.2 1629.2,773.5C1629.7,777.7 1628.9,783.8 1629.2,787.8C1629.5,791.8 1630.8,795.8 1631.1,797.3" stroke="#2b2a26" stroke-width="4.1"/>
<path d="M1634.2,797.3C1632.8,795.8 1628.9,790.8 1626.3,787.8C1623.7,784.8 1621.2,780.8 1618.7,779.4C1616.1,778.0 1613.4,778.1 1611.0,779.4C1608.6,780.7 1605.6,784.0 1604.3,787.0C1603.1,790.0 1602.8,794.6 1603.6,797.3C1604.4,800.1 1606.6,802.3 1609.1,803.3C1611.6,804.3 1614.5,804.3 1618.7,803.3C1622.8,802.3 1631.6,798.3 1634.2,797.3" stroke="#2b2a26" stroke-width="4.1"/>
<path d="M1664.5,763.1C1663.6,762.5 1661.0,759.8 1658.8,759.3C1656.6,758.8 1653.6,758.8 1651.2,760.3C1648.8,761.7 1646.0,764.6 1644.5,767.9C1642.9,771.3 1641.8,776.4 1641.8,780.3C1641.8,784.3 1642.9,788.9 1644.7,791.8C1646.4,794.7 1649.3,796.9 1652.3,797.5C1655.3,798.2 1661.1,795.9 1662.8,795.6" stroke="#2b2a26" stroke-width="4.1"/>
<path d="M1685.8,770.6C1685.1,769.2 1683.6,763.7 1681.9,762.2C1680.3,760.6 1678.1,760.3 1676.0,761.2C1673.9,762.2 1671.1,765.1 1669.5,767.9C1668.0,770.7 1666.8,774.6 1666.7,778.2C1666.5,781.9 1667.1,787.0 1668.6,789.9C1670.0,792.8 1673.3,795.6 1675.3,795.6C1677.2,795.6 1678.4,793.1 1680.0,789.9C1681.6,786.7 1683.7,780.8 1684.8,776.5C1685.9,772.2 1686.8,763.8 1686.7,764.1C1686.7,764.4 1685.3,774.0 1684.6,778.2C1684.0,782.5 1683.3,785.9 1682.7,789.7C1682.1,793.5 1681.1,797.3 1680.8,801.2C1680.5,805.0 1680.2,809.5 1680.8,812.8C1681.4,816.2 1683.3,820.2 1684.6,821.4C1685.9,822.7 1686.3,821.6 1688.4,820.5C1690.5,819.4 1695.8,815.7 1697.2,814.7" stroke="#2b2a26" stroke-width="4.1"/>
<path d="M1709.7,761.2C1709.2,763.3 1707.3,769.2 1706.8,773.6C1706.3,778.1 1706.2,783.8 1706.8,787.8C1707.4,791.7 1709.0,795.4 1710.6,797.3C1712.2,799.3 1714.1,800.4 1716.3,799.4C1718.6,798.5 1721.8,795.3 1724.0,791.8C1726.2,788.3 1728.5,783.5 1729.7,778.2C1731.0,773.0 1731.3,760.3 1731.6,760.3C1732.0,760.3 1731.0,773.0 1731.6,778.2C1732.3,783.5 1733.9,788.7 1735.5,791.6C1737.1,794.5 1740.2,795.0 1741.2,795.6" stroke="#2b2a26" stroke-width="4.1"/>
<path d="M1751.7,757.4C1751.7,760.9 1751.4,772.8 1751.5,778.2C1751.6,783.6 1751.5,787.0 1752.5,789.7C1753.4,792.4 1755.0,793.8 1757.3,794.5C1759.5,795.1 1764.6,793.8 1766.0,793.7" stroke="#2b2a26" stroke-width="4.1"/>
<path d="M1741.2,745.9L1754.6,750.7" stroke="#2b2a26" stroke-width="4.1"/>
<path d="M1785.3,761.0C1784.5,760.4 1782.4,758.1 1780.5,757.4C1778.6,756.7 1776.1,756.4 1773.8,756.9C1771.6,757.4 1768.4,758.3 1767.1,760.3C1765.9,762.3 1765.4,766.3 1766.2,768.9C1767.0,771.4 1769.4,773.6 1771.9,775.6C1774.5,777.5 1778.1,778.9 1781.5,780.3C1784.8,781.8 1789.7,782.8 1792.0,784.2C1794.2,785.5 1795.5,786.8 1795.0,788.3C1794.6,789.7 1791.7,791.8 1789.1,792.8C1786.5,793.7 1782.7,794.0 1779.6,794.0C1776.4,794.0 1772.3,793.5 1770.0,792.8C1767.7,792.0 1766.5,791.6 1765.7,789.7C1764.9,787.8 1765.3,782.7 1765.2,781.3" stroke="#2b2a26" stroke-width="4.1"/>
<path d="M1800.6,795.4C1800.8,791.0 1801.2,774.3 1802.0,768.7C1802.8,763.0 1803.5,762.6 1805.4,761.5C1807.2,760.4 1805.2,761.4 1813.0,762.2C1820.8,762.9 1846.1,763.3 1852.2,766.0C1858.2,768.7 1850.3,773.3 1849.3,778.2C1848.4,783.1 1846.9,792.6 1846.5,795.4" stroke="#2b2a26" stroke-width="4.1"/>
<path d="M1791.2,747.6C1795.5,747.4 1812.1,746.5 1816.8,745.9C1821.6,745.3 1819.1,741.0 1819.7,744.0C1820.3,747.0 1820.5,756.6 1820.7,763.9C1820.8,771.2 1820.1,782.5 1820.7,787.8C1821.2,793.1 1822.2,794.3 1823.7,795.6C1825.2,796.9 1826.7,797.5 1829.4,795.6C1832.2,793.7 1838.2,786.1 1840.0,784.2" stroke="#2b2a26" stroke-width="4.1"/>
<path d="M1839.0,745.0C1840.2,746.1 1843.4,749.1 1846.5,751.5C1849.5,753.8 1855.4,757.8 1857.2,759.1" stroke="#2b2a26" stroke-width="4.1"/>
<path d="M1875.1,761.2C1873.7,761.7 1868.9,761.5 1866.7,764.1C1864.5,766.6 1862.6,772.5 1861.9,776.5C1861.3,780.5 1861.5,784.8 1862.9,788.0C1864.3,791.2 1867.5,794.5 1870.5,795.6C1873.6,796.7 1878.2,796.4 1881.1,794.7C1883.9,792.9 1886.5,788.5 1887.7,785.1C1889.0,781.8 1889.5,778.1 1888.7,774.6C1887.9,771.1 1885.4,766.6 1883.0,764.1C1880.6,761.5 1875.8,760.1 1874.4,759.3" stroke="#2b2a26" stroke-width="4.1"/>
<path d="M1895.4,795.4C1895.4,792.6 1895.2,783.0 1895.4,778.2C1895.6,773.5 1896.2,767.7 1896.3,767.0C1896.5,766.2 1895.1,773.9 1896.3,773.5C1897.6,773.0 1901.1,766.3 1903.8,764.1C1906.5,761.9 1910.6,758.7 1912.4,760.3C1914.2,761.9 1914.0,769.1 1914.5,773.6C1915.0,778.2 1915.0,784.0 1915.5,787.8C1915.9,791.6 1915.8,794.4 1917.4,796.4C1919.0,798.3 1922.5,798.8 1925.0,799.4C1927.5,800.1 1928.7,800.4 1932.5,800.2C1936.3,800.0 1944.1,799.6 1947.8,798.3C1951.5,797.0 1954.0,794.6 1954.7,792.6C1955.3,790.5 1954.2,788.6 1951.8,785.9C1949.4,783.2 1943.8,779.5 1940.3,776.5C1936.8,773.5 1932.3,770.8 1930.8,767.9C1929.2,765.0 1929.3,761.4 1930.8,759.3C1932.2,757.2 1936.5,755.8 1939.4,755.5C1942.2,755.2 1945.9,755.8 1948.0,757.4C1950.0,759.0 1951.1,763.8 1951.8,765.0" stroke="#2b2a26" stroke-width="4.1"/>
</g></svg></body></html>
